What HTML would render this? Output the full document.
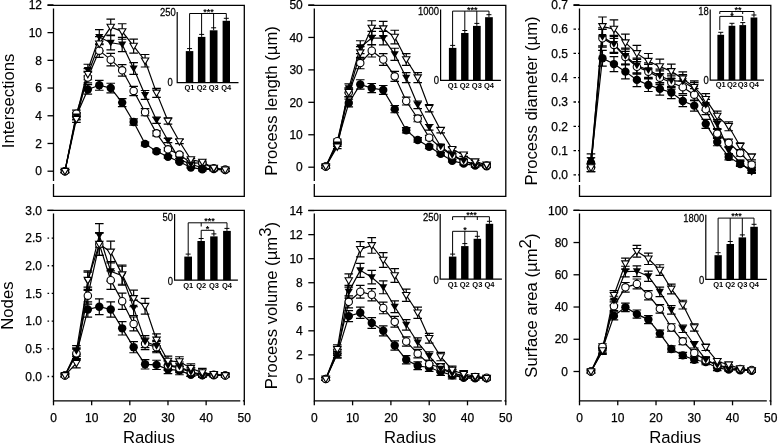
<!DOCTYPE html>
<html><head><meta charset="utf-8"><style>
html,body{margin:0;padding:0;background:#fff;}
body{width:778px;height:445px;overflow:hidden;}
svg{display:block;filter:grayscale(1);}
text{font-family:"Liberation Sans", sans-serif;fill:#000;}
.tl{font-size:12px;stroke:#000;stroke-width:0.25px;}
.al{font-size:16.7px;}
.il{font-size:11px;stroke:#000;stroke-width:0.25px;}
.ql{font-size:7.5px;font-weight:bold;}
.st{font-size:9px;font-weight:bold;}
</style></head><body>
<svg width="778" height="445" viewBox="0 0 778 445">
<rect width="778" height="445" fill="#fff"/>
<g><path d="M47.5 5.4H244.3V196.4H53.5V8.4" fill="none" stroke="#000" stroke-width="1.3"/><rect x="52" y="181" width="3" height="3" fill="#fff"/><line x1="47.5" y1="171.2" x2="53.5" y2="171.2" stroke="#000" stroke-width="1.3"/><text x="42" y="175.4" text-anchor="end" class="tl">0</text><line x1="47.5" y1="143.48" x2="53.5" y2="143.48" stroke="#000" stroke-width="1.3"/><text x="42" y="147.68" text-anchor="end" class="tl">2</text><line x1="47.5" y1="115.77" x2="53.5" y2="115.77" stroke="#000" stroke-width="1.3"/><text x="42" y="119.97" text-anchor="end" class="tl">4</text><line x1="47.5" y1="88.05" x2="53.5" y2="88.05" stroke="#000" stroke-width="1.3"/><text x="42" y="92.25" text-anchor="end" class="tl">6</text><line x1="47.5" y1="60.33" x2="53.5" y2="60.33" stroke="#000" stroke-width="1.3"/><text x="42" y="64.53" text-anchor="end" class="tl">8</text><line x1="47.5" y1="32.62" x2="53.5" y2="32.62" stroke="#000" stroke-width="1.3"/><text x="42" y="36.82" text-anchor="end" class="tl">10</text><line x1="47.5" y1="4.9" x2="53.5" y2="4.9" stroke="#000" stroke-width="1.3"/><text x="42" y="9.1" text-anchor="end" class="tl">12</text><text transform="translate(13.5 100.9) rotate(-90)" text-anchor="middle" class="al">Intersections</text><polyline points="64.95,171.2 76.4,115.77 87.84,89.44 99.29,85.28 110.74,88.05 122.19,102.6 133.64,122 145.08,143.9 156.53,151.24 167.98,156.79 179.43,161.78 190.88,167.46 202.32,169.4 213.77,169.12 225.22,170.09" fill="none" stroke="#000" stroke-width="1.2"/><polyline points="64.95,171.2 76.4,113.69 87.84,77.52 99.29,50.63 110.74,59.64 122.19,70.31 133.64,90.96 145.08,112.16 156.53,133.37 167.98,149.3 179.43,154.57 190.88,162.88 202.32,163.16 213.77,168.15 225.22,169.54" fill="none" stroke="#000" stroke-width="1.2"/><polyline points="64.95,171.2 76.4,116.46 87.84,70.03 99.29,37.05 110.74,42.73 122.19,44.53 133.64,68.51 145.08,94.98 156.53,120.2 167.98,140.43 179.43,159.42 190.88,164.27 202.32,167.74 213.77,169.12 225.22,169.81" fill="none" stroke="#000" stroke-width="1.2"/><polyline points="64.95,171.2 76.4,119.23 87.84,74.19 99.29,43.84 110.74,27.07 122.19,31.51 133.64,46.06 145.08,60.75 156.53,92.9 167.98,121.03 179.43,141.54 190.88,159.56 202.32,162.05 213.77,168.01 225.22,169.81" fill="none" stroke="#000" stroke-width="1.2"/><path d="M64.95 169.7V172.7M60.65 169.7H69.25M60.65 172.7H69.25" stroke="#000" stroke-width="1.2" fill="none"/><path d="M76.4 112.38V119.15M72.1 112.38H80.7M72.1 119.15H80.7" stroke="#000" stroke-width="1.2" fill="none"/><path d="M87.84 84.68V94.19M83.54 84.68H92.14M83.54 94.19H92.14" stroke="#000" stroke-width="1.2" fill="none"/><path d="M99.29 80.31V90.25M94.99 80.31H103.59M94.99 90.25H103.59" stroke="#000" stroke-width="1.2" fill="none"/><path d="M110.74 83.23V92.87M106.44 83.23H115.04M106.44 92.87H115.04" stroke="#000" stroke-width="1.2" fill="none"/><path d="M122.19 98.53V106.67M117.89 98.53H126.49M117.89 106.67H126.49" stroke="#000" stroke-width="1.2" fill="none"/><path d="M133.64 118.94V125.06M129.34 118.94H137.94M129.34 125.06H137.94" stroke="#000" stroke-width="1.2" fill="none"/><path d="M145.08 141.98V145.82M140.78 141.98H149.38M140.78 145.82H149.38" stroke="#000" stroke-width="1.2" fill="none"/><path d="M156.53 149.71V152.78M152.23 149.71H160.83M152.23 152.78H160.83" stroke="#000" stroke-width="1.2" fill="none"/><path d="M167.98 155.54V158.04M163.68 155.54H172.28M163.68 158.04H172.28" stroke="#000" stroke-width="1.2" fill="none"/><path d="M179.43 160.79V162.77M175.13 160.79H183.73M175.13 162.77H183.73" stroke="#000" stroke-width="1.2" fill="none"/><path d="M190.88 166.76V168.15M186.58 166.76H195.18M186.58 168.15H195.18" stroke="#000" stroke-width="1.2" fill="none"/><path d="M202.32 167.9V170.9M198.02 167.9H206.62M198.02 170.9H206.62" stroke="#000" stroke-width="1.2" fill="none"/><path d="M213.77 167.62V170.62M209.47 167.62H218.07M209.47 170.62H218.07" stroke="#000" stroke-width="1.2" fill="none"/><path d="M225.22 168.59V171.59M220.92 168.59H229.52M220.92 171.59H229.52" stroke="#000" stroke-width="1.2" fill="none"/><path d="M64.95 169.7V172.7M60.65 169.7H69.25M60.65 172.7H69.25" stroke="#000" stroke-width="1.2" fill="none"/><path d="M76.4 110.2V117.18M72.1 110.2H80.7M72.1 117.18H80.7" stroke="#000" stroke-width="1.2" fill="none"/><path d="M87.84 72.15V82.89M83.54 72.15H92.14M83.54 82.89H92.14" stroke="#000" stroke-width="1.2" fill="none"/><path d="M99.29 43.86V57.4M94.99 43.86H103.59M94.99 57.4H103.59" stroke="#000" stroke-width="1.2" fill="none"/><path d="M110.74 53.34V65.94M106.44 53.34H115.04M106.44 65.94H115.04" stroke="#000" stroke-width="1.2" fill="none"/><path d="M122.19 64.57V76.06M117.89 64.57H126.49M117.89 76.06H126.49" stroke="#000" stroke-width="1.2" fill="none"/><path d="M133.64 86.29V95.63M129.34 86.29H137.94M129.34 95.63H137.94" stroke="#000" stroke-width="1.2" fill="none"/><path d="M145.08 108.59V115.73M140.78 108.59H149.38M140.78 115.73H149.38" stroke="#000" stroke-width="1.2" fill="none"/><path d="M156.53 130.9V135.83M152.23 130.9H160.83M152.23 135.83H160.83" stroke="#000" stroke-width="1.2" fill="none"/><path d="M167.98 147.67V150.94M163.68 147.67H172.28M163.68 150.94H172.28" stroke="#000" stroke-width="1.2" fill="none"/><path d="M179.43 153.21V155.93M175.13 153.21H183.73M175.13 155.93H183.73" stroke="#000" stroke-width="1.2" fill="none"/><path d="M190.88 161.95V163.82M186.58 161.95H195.18M186.58 163.82H195.18" stroke="#000" stroke-width="1.2" fill="none"/><path d="M202.32 162.24V164.08M198.02 162.24H206.62M198.02 164.08H206.62" stroke="#000" stroke-width="1.2" fill="none"/><path d="M213.77 167.49V168.81M209.47 167.49H218.07M209.47 168.81H218.07" stroke="#000" stroke-width="1.2" fill="none"/><path d="M225.22 168.04V171.04M220.92 168.04H229.52M220.92 171.04H229.52" stroke="#000" stroke-width="1.2" fill="none"/><path d="M64.95 169.7V172.7M60.65 169.7H69.25M60.65 172.7H69.25" stroke="#000" stroke-width="1.2" fill="none"/><path d="M76.4 113.11V119.81M72.1 113.11H80.7M72.1 119.81H80.7" stroke="#000" stroke-width="1.2" fill="none"/><path d="M87.84 64.27V75.79M83.54 64.27H92.14M83.54 75.79H92.14" stroke="#000" stroke-width="1.2" fill="none"/><path d="M99.29 29.58V44.53M94.99 29.58H103.59M94.99 44.53H103.59" stroke="#000" stroke-width="1.2" fill="none"/><path d="M110.74 35.55V49.91M106.44 35.55H115.04M106.44 49.91H115.04" stroke="#000" stroke-width="1.2" fill="none"/><path d="M122.19 37.45V51.62M117.89 37.45H126.49M117.89 51.62H126.49" stroke="#000" stroke-width="1.2" fill="none"/><path d="M133.64 62.67V74.35M129.34 62.67H137.94M129.34 74.35H137.94" stroke="#000" stroke-width="1.2" fill="none"/><path d="M145.08 90.52V99.44M140.78 90.52H149.38M140.78 99.44H149.38" stroke="#000" stroke-width="1.2" fill="none"/><path d="M156.53 117.05V123.35M152.23 117.05H160.83M152.23 123.35H160.83" stroke="#000" stroke-width="1.2" fill="none"/><path d="M167.98 138.33V142.53M163.68 138.33H172.28M163.68 142.53H172.28" stroke="#000" stroke-width="1.2" fill="none"/><path d="M179.43 158.31V160.53M175.13 158.31H183.73M175.13 160.53H183.73" stroke="#000" stroke-width="1.2" fill="none"/><path d="M190.88 163.41V165.13M186.58 163.41H195.18M186.58 165.13H195.18" stroke="#000" stroke-width="1.2" fill="none"/><path d="M202.32 167.06V168.42M198.02 167.06H206.62M198.02 168.42H206.62" stroke="#000" stroke-width="1.2" fill="none"/><path d="M213.77 167.62V170.62M209.47 167.62H218.07M209.47 170.62H218.07" stroke="#000" stroke-width="1.2" fill="none"/><path d="M225.22 168.31V171.31M220.92 168.31H229.52M220.92 171.31H229.52" stroke="#000" stroke-width="1.2" fill="none"/><path d="M64.95 169.7V172.7M60.65 169.7H69.25M60.65 172.7H69.25" stroke="#000" stroke-width="1.2" fill="none"/><path d="M76.4 116.03V122.43M72.1 116.03H80.7M72.1 122.43H80.7" stroke="#000" stroke-width="1.2" fill="none"/><path d="M87.84 68.65V79.74M83.54 68.65H92.14M83.54 79.74H92.14" stroke="#000" stroke-width="1.2" fill="none"/><path d="M99.29 36.72V50.96M94.99 36.72H103.59M94.99 50.96H103.59" stroke="#000" stroke-width="1.2" fill="none"/><path d="M110.74 19.08V35.07M106.44 19.08H115.04M106.44 35.07H115.04" stroke="#000" stroke-width="1.2" fill="none"/><path d="M122.19 23.74V39.27M117.89 23.74H126.49M117.89 39.27H126.49" stroke="#000" stroke-width="1.2" fill="none"/><path d="M133.64 39.05V53.07M129.34 39.05H137.94M129.34 53.07H137.94" stroke="#000" stroke-width="1.2" fill="none"/><path d="M145.08 54.51V66.99M140.78 54.51H149.38M140.78 66.99H149.38" stroke="#000" stroke-width="1.2" fill="none"/><path d="M156.53 88.33V97.47M152.23 88.33H160.83M152.23 97.47H160.83" stroke="#000" stroke-width="1.2" fill="none"/><path d="M167.98 117.92V124.14M163.68 117.92H172.28M163.68 124.14H172.28" stroke="#000" stroke-width="1.2" fill="none"/><path d="M179.43 139.5V143.59M175.13 139.5H183.73M175.13 143.59H183.73" stroke="#000" stroke-width="1.2" fill="none"/><path d="M190.88 158.45V160.66M186.58 158.45H195.18M186.58 160.66H195.18" stroke="#000" stroke-width="1.2" fill="none"/><path d="M202.32 161.08V163.03M198.02 161.08H206.62M198.02 163.03H206.62" stroke="#000" stroke-width="1.2" fill="none"/><path d="M213.77 167.35V168.68M209.47 167.35H218.07M209.47 168.68H218.07" stroke="#000" stroke-width="1.2" fill="none"/><path d="M225.22 168.31V171.31M220.92 168.31H229.52M220.92 171.31H229.52" stroke="#000" stroke-width="1.2" fill="none"/><circle cx="64.95" cy="171.2" r="4.2" fill="#000"/><circle cx="76.4" cy="115.77" r="4.2" fill="#000"/><circle cx="87.84" cy="89.44" r="4.2" fill="#000"/><circle cx="99.29" cy="85.28" r="4.2" fill="#000"/><circle cx="110.74" cy="88.05" r="4.2" fill="#000"/><circle cx="122.19" cy="102.6" r="4.2" fill="#000"/><circle cx="133.64" cy="122" r="4.2" fill="#000"/><circle cx="145.08" cy="143.9" r="4.2" fill="#000"/><circle cx="156.53" cy="151.24" r="4.2" fill="#000"/><circle cx="167.98" cy="156.79" r="4.2" fill="#000"/><circle cx="179.43" cy="161.78" r="4.2" fill="#000"/><circle cx="190.88" cy="167.46" r="4.2" fill="#000"/><circle cx="202.32" cy="169.4" r="4.2" fill="#000"/><circle cx="213.77" cy="169.12" r="4.2" fill="#000"/><circle cx="225.22" cy="170.09" r="4.2" fill="#000"/><circle cx="64.95" cy="171.2" r="3.7" fill="#fff" stroke="#000" stroke-width="1.1"/><circle cx="76.4" cy="113.69" r="3.7" fill="#fff" stroke="#000" stroke-width="1.1"/><circle cx="87.84" cy="77.52" r="3.7" fill="#fff" stroke="#000" stroke-width="1.1"/><circle cx="99.29" cy="50.63" r="3.7" fill="#fff" stroke="#000" stroke-width="1.1"/><circle cx="110.74" cy="59.64" r="3.7" fill="#fff" stroke="#000" stroke-width="1.1"/><circle cx="122.19" cy="70.31" r="3.7" fill="#fff" stroke="#000" stroke-width="1.1"/><circle cx="133.64" cy="90.96" r="3.7" fill="#fff" stroke="#000" stroke-width="1.1"/><circle cx="145.08" cy="112.16" r="3.7" fill="#fff" stroke="#000" stroke-width="1.1"/><circle cx="156.53" cy="133.37" r="3.7" fill="#fff" stroke="#000" stroke-width="1.1"/><circle cx="167.98" cy="149.3" r="3.7" fill="#fff" stroke="#000" stroke-width="1.1"/><circle cx="179.43" cy="154.57" r="3.7" fill="#fff" stroke="#000" stroke-width="1.1"/><circle cx="190.88" cy="162.88" r="3.7" fill="#fff" stroke="#000" stroke-width="1.1"/><circle cx="202.32" cy="163.16" r="3.7" fill="#fff" stroke="#000" stroke-width="1.1"/><circle cx="213.77" cy="168.15" r="3.7" fill="#fff" stroke="#000" stroke-width="1.1"/><circle cx="225.22" cy="169.54" r="3.7" fill="#fff" stroke="#000" stroke-width="1.1"/><path d="M60.85 168.2H69.05L64.95 175Z" fill="#000"/><path d="M72.3 113.46H80.5L76.4 120.26Z" fill="#000"/><path d="M83.74 67.03H91.94L87.84 73.83Z" fill="#000"/><path d="M95.19 34.05H103.39L99.29 40.85Z" fill="#000"/><path d="M106.64 39.73H114.84L110.74 46.53Z" fill="#000"/><path d="M118.09 41.53H126.29L122.19 48.33Z" fill="#000"/><path d="M129.54 65.51H137.74L133.64 72.31Z" fill="#000"/><path d="M140.98 91.98H149.18L145.08 98.78Z" fill="#000"/><path d="M152.43 117.2H160.63L156.53 124Z" fill="#000"/><path d="M163.88 137.43H172.08L167.98 144.23Z" fill="#000"/><path d="M175.33 156.42H183.53L179.43 163.22Z" fill="#000"/><path d="M186.78 161.27H194.98L190.88 168.07Z" fill="#000"/><path d="M198.22 164.74H206.42L202.32 171.54Z" fill="#000"/><path d="M209.67 166.12H217.87L213.77 172.92Z" fill="#000"/><path d="M221.12 166.81H229.32L225.22 173.61Z" fill="#000"/><path d="M61.25 168.4H68.65L64.95 174.8Z" fill="#fff" stroke="#000" stroke-width="1.1"/><path d="M72.7 116.43H80.1L76.4 122.83Z" fill="#fff" stroke="#000" stroke-width="1.1"/><path d="M84.14 71.39H91.54L87.84 77.79Z" fill="#fff" stroke="#000" stroke-width="1.1"/><path d="M95.59 41.04H102.99L99.29 47.44Z" fill="#fff" stroke="#000" stroke-width="1.1"/><path d="M107.04 24.27H114.44L110.74 30.67Z" fill="#fff" stroke="#000" stroke-width="1.1"/><path d="M118.49 28.71H125.89L122.19 35.11Z" fill="#fff" stroke="#000" stroke-width="1.1"/><path d="M129.94 43.26H137.34L133.64 49.66Z" fill="#fff" stroke="#000" stroke-width="1.1"/><path d="M141.38 57.95H148.78L145.08 64.35Z" fill="#fff" stroke="#000" stroke-width="1.1"/><path d="M152.83 90.1H160.23L156.53 96.5Z" fill="#fff" stroke="#000" stroke-width="1.1"/><path d="M164.28 118.23H171.68L167.98 124.63Z" fill="#fff" stroke="#000" stroke-width="1.1"/><path d="M175.73 138.74H183.13L179.43 145.14Z" fill="#fff" stroke="#000" stroke-width="1.1"/><path d="M187.18 156.76H194.58L190.88 163.16Z" fill="#fff" stroke="#000" stroke-width="1.1"/><path d="M198.62 159.25H206.02L202.32 165.65Z" fill="#fff" stroke="#000" stroke-width="1.1"/><path d="M210.07 165.21H217.47L213.77 171.61Z" fill="#fff" stroke="#000" stroke-width="1.1"/><path d="M221.52 167.01H228.92L225.22 173.41Z" fill="#fff" stroke="#000" stroke-width="1.1"/><rect x="175.2" y="9" width="65.3" height="82.6" fill="#fff"/><path d="M177.2 12V82.6H238.5" fill="none" stroke="#000" stroke-width="1.2"/><text transform="translate(175.7 15.5) scale(0.86 1)" text-anchor="end" class="il">250</text><text transform="translate(172.7 86.2) scale(0.86 1)" text-anchor="end" class="il">0</text><rect x="185.8" y="51.1" width="7.5" height="31.5" fill="#000"/><path d="M189.55 51.1V48.6M187.05 48.6H192.05" stroke="#000" stroke-width="1"/><text x="189.55" y="89.9" text-anchor="middle" class="ql">Q1</text><rect x="197.9" y="36.9" width="7.5" height="45.7" fill="#000"/><path d="M201.65 36.9V34.4M199.15 34.4H204.15" stroke="#000" stroke-width="1"/><text x="201.65" y="89.9" text-anchor="middle" class="ql">Q2</text><rect x="209.8" y="30.3" width="7.7" height="52.3" fill="#000"/><path d="M213.65 30.3V27.8M211.15 27.8H216.15" stroke="#000" stroke-width="1"/><text x="213.65" y="89.9" text-anchor="middle" class="ql">Q3</text><rect x="222.6" y="20.8" width="7.4" height="61.8" fill="#000"/><path d="M226.3 20.8V18.3M223.8 18.3H228.8" stroke="#000" stroke-width="1"/><text x="226.3" y="89.9" text-anchor="middle" class="ql">Q4</text><path d="M189.6 13.5H226.3" stroke="#000" stroke-width="1"/><path d="M189.6 13.5V49" stroke="#000" stroke-width="1"/><path d="M201.6 13.5V35" stroke="#000" stroke-width="1"/><path d="M213.6 13.5V28" stroke="#000" stroke-width="1"/><path d="M226.3 13.5V18.5" stroke="#000" stroke-width="1"/><text x="208.4" y="14.9" text-anchor="middle" class="st">***</text></g><g><path d="M308.3 5.4H505.8V196.4H314.3V8.4" fill="none" stroke="#000" stroke-width="1.3"/><rect x="312.8" y="181" width="3" height="3" fill="#fff"/><line x1="308.3" y1="167.2" x2="314.3" y2="167.2" stroke="#000" stroke-width="1.3"/><text x="302.8" y="171.4" text-anchor="end" class="tl">0</text><line x1="308.3" y1="134.76" x2="314.3" y2="134.76" stroke="#000" stroke-width="1.3"/><text x="302.8" y="138.96" text-anchor="end" class="tl">10</text><line x1="308.3" y1="102.32" x2="314.3" y2="102.32" stroke="#000" stroke-width="1.3"/><text x="302.8" y="106.52" text-anchor="end" class="tl">20</text><line x1="308.3" y1="69.88" x2="314.3" y2="69.88" stroke="#000" stroke-width="1.3"/><text x="302.8" y="74.08" text-anchor="end" class="tl">30</text><line x1="308.3" y1="37.44" x2="314.3" y2="37.44" stroke="#000" stroke-width="1.3"/><text x="302.8" y="41.64" text-anchor="end" class="tl">40</text><line x1="308.3" y1="5" x2="314.3" y2="5" stroke="#000" stroke-width="1.3"/><text x="302.8" y="9.2" text-anchor="end" class="tl">50</text><text transform="translate(277 100.9) rotate(-90)" text-anchor="middle" class="al">Process length (µm)</text><polyline points="325.79,166.55 337.28,142.87 348.77,102.97 360.26,84.48 371.75,88.05 383.24,89.99 394.73,109.13 406.22,130.22 417.71,139.95 429.2,146.76 440.69,153.9 452.18,160.71 463.67,163.63 475.16,165.58 486.65,166.23" fill="none" stroke="#000" stroke-width="1.2"/><polyline points="325.79,166.55 337.28,141.25 348.77,92.59 360.26,63.07 371.75,50.74 383.24,59.5 394.73,76.37 406.22,101.02 417.71,118.54 429.2,137.68 440.69,147.74 452.18,155.52 463.67,161.36 475.16,163.96 486.65,165.58" fill="none" stroke="#000" stroke-width="1.2"/><polyline points="325.79,166.55 337.28,144.49 348.77,88.37 360.26,47.17 371.75,38.09 383.24,38.09 394.73,54.31 406.22,77.67 417.71,104.92 429.2,127.3 440.69,146.44 452.18,154.87 463.67,160.71 475.16,165.25 486.65,165.9" fill="none" stroke="#000" stroke-width="1.2"/><polyline points="325.79,166.55 337.28,146.76 348.77,92.26 360.26,52.69 371.75,28.03 383.24,28.68 394.73,37.12 406.22,59.5 417.71,77.67 429.2,108.16 440.69,130.22 452.18,149.36 463.67,154.87 475.16,161.69 486.65,164.93" fill="none" stroke="#000" stroke-width="1.2"/><path d="M325.79 165.05V168.05M321.49 165.05H330.09M321.49 168.05H330.09" stroke="#000" stroke-width="1.2" fill="none"/><path d="M337.28 140.78V144.96M332.98 140.78H341.58M332.98 144.96H341.58" stroke="#000" stroke-width="1.2" fill="none"/><path d="M348.77 99.08V106.86M344.47 99.08H353.07M344.47 106.86H353.07" stroke="#000" stroke-width="1.2" fill="none"/><path d="M360.26 79.76V89.2M355.96 79.76H364.56M355.96 89.2H364.56" stroke="#000" stroke-width="1.2" fill="none"/><path d="M371.75 83.48V92.61M367.45 83.48H376.05M367.45 92.61H376.05" stroke="#000" stroke-width="1.2" fill="none"/><path d="M383.24 85.52V94.47M378.94 85.52H387.54M378.94 94.47H387.54" stroke="#000" stroke-width="1.2" fill="none"/><path d="M394.73 105.52V112.75M390.43 105.52H399.03M390.43 112.75H399.03" stroke="#000" stroke-width="1.2" fill="none"/><path d="M406.22 127.55V132.88M401.92 127.55H410.52M401.92 132.88H410.52" stroke="#000" stroke-width="1.2" fill="none"/><path d="M417.71 137.72V142.18M413.41 137.72H422.01M413.41 142.18H422.01" stroke="#000" stroke-width="1.2" fill="none"/><path d="M429.2 144.84V148.68M424.9 144.84H433.5M424.9 148.68H433.5" stroke="#000" stroke-width="1.2" fill="none"/><path d="M440.69 152.3V155.5M436.39 152.3H444.99M436.39 155.5H444.99" stroke="#000" stroke-width="1.2" fill="none"/><path d="M452.18 159.42V162M447.88 159.42H456.48M447.88 162H456.48" stroke="#000" stroke-width="1.2" fill="none"/><path d="M463.67 162.47V164.79M459.37 162.47H467.97M459.37 164.79H467.97" stroke="#000" stroke-width="1.2" fill="none"/><path d="M475.16 164.08V167.08M470.86 164.08H479.46M470.86 167.08H479.46" stroke="#000" stroke-width="1.2" fill="none"/><path d="M486.65 164.73V167.73M482.35 164.73H490.95M482.35 167.73H490.95" stroke="#000" stroke-width="1.2" fill="none"/><path d="M325.79 165.05V168.05M321.49 165.05H330.09M321.49 168.05H330.09" stroke="#000" stroke-width="1.2" fill="none"/><path d="M337.28 139.08V143.42M332.98 139.08H341.58M332.98 143.42H341.58" stroke="#000" stroke-width="1.2" fill="none"/><path d="M348.77 88.23V96.95M344.47 88.23H353.07M344.47 96.95H353.07" stroke="#000" stroke-width="1.2" fill="none"/><path d="M360.26 57.38V68.75M355.96 57.38H364.56M355.96 68.75H364.56" stroke="#000" stroke-width="1.2" fill="none"/><path d="M371.75 44.5V56.98M367.45 44.5H376.05M367.45 56.98H376.05" stroke="#000" stroke-width="1.2" fill="none"/><path d="M383.24 53.65V65.35M378.94 53.65H387.54M378.94 65.35H387.54" stroke="#000" stroke-width="1.2" fill="none"/><path d="M394.73 71.28V81.46M390.43 71.28H399.03M390.43 81.46H399.03" stroke="#000" stroke-width="1.2" fill="none"/><path d="M406.22 97.04V105M401.92 97.04H410.52M401.92 105H410.52" stroke="#000" stroke-width="1.2" fill="none"/><path d="M417.71 115.35V121.73M413.41 115.35H422.01M413.41 121.73H422.01" stroke="#000" stroke-width="1.2" fill="none"/><path d="M429.2 135.35V140.01M424.9 135.35H433.5M424.9 140.01H433.5" stroke="#000" stroke-width="1.2" fill="none"/><path d="M440.69 145.86V149.61M436.39 145.86H444.99M436.39 149.61H444.99" stroke="#000" stroke-width="1.2" fill="none"/><path d="M452.18 154V157.05M447.88 154H456.48M447.88 157.05H456.48" stroke="#000" stroke-width="1.2" fill="none"/><path d="M463.67 160.1V162.62M459.37 160.1H467.97M459.37 162.62H467.97" stroke="#000" stroke-width="1.2" fill="none"/><path d="M475.16 162.81V165.1M470.86 162.81H479.46M470.86 165.1H479.46" stroke="#000" stroke-width="1.2" fill="none"/><path d="M486.65 164.08V167.08M482.35 164.08H490.95M482.35 167.08H490.95" stroke="#000" stroke-width="1.2" fill="none"/><path d="M325.79 165.05V168.05M321.49 165.05H330.09M321.49 168.05H330.09" stroke="#000" stroke-width="1.2" fill="none"/><path d="M337.28 142.47V146.51M332.98 142.47H341.58M332.98 146.51H341.58" stroke="#000" stroke-width="1.2" fill="none"/><path d="M348.77 83.82V92.92M344.47 83.82H353.07M344.47 92.92H353.07" stroke="#000" stroke-width="1.2" fill="none"/><path d="M360.26 40.77V53.57M355.96 40.77H364.56M355.96 53.57H364.56" stroke="#000" stroke-width="1.2" fill="none"/><path d="M371.75 31.28V44.9M367.45 31.28H376.05M367.45 44.9H376.05" stroke="#000" stroke-width="1.2" fill="none"/><path d="M383.24 31.28V44.9M378.94 31.28H387.54M378.94 44.9H387.54" stroke="#000" stroke-width="1.2" fill="none"/><path d="M394.73 48.23V60.39M390.43 48.23H399.03M390.43 60.39H399.03" stroke="#000" stroke-width="1.2" fill="none"/><path d="M406.22 72.64V82.69M401.92 72.64H410.52M401.92 82.69H410.52" stroke="#000" stroke-width="1.2" fill="none"/><path d="M417.71 101.11V108.72M413.41 101.11H422.01M413.41 108.72H422.01" stroke="#000" stroke-width="1.2" fill="none"/><path d="M429.2 124.5V130.09M424.9 124.5H433.5M424.9 130.09H433.5" stroke="#000" stroke-width="1.2" fill="none"/><path d="M440.69 144.5V148.37M436.39 144.5H444.99M436.39 148.37H444.99" stroke="#000" stroke-width="1.2" fill="none"/><path d="M452.18 153.32V156.43M447.88 153.32H456.48M447.88 156.43H456.48" stroke="#000" stroke-width="1.2" fill="none"/><path d="M463.67 159.42V162M459.37 159.42H467.97M459.37 162H467.97" stroke="#000" stroke-width="1.2" fill="none"/><path d="M475.16 163.75V166.75M470.86 163.75H479.46M470.86 166.75H479.46" stroke="#000" stroke-width="1.2" fill="none"/><path d="M486.65 164.4V167.4M482.35 164.4H490.95M482.35 167.4H490.95" stroke="#000" stroke-width="1.2" fill="none"/><path d="M325.79 165.05V168.05M321.49 165.05H330.09M321.49 168.05H330.09" stroke="#000" stroke-width="1.2" fill="none"/><path d="M337.28 144.84V148.68M332.98 144.84H341.58M332.98 148.68H341.58" stroke="#000" stroke-width="1.2" fill="none"/><path d="M348.77 87.89V96.64M344.47 87.89H353.07M344.47 96.64H353.07" stroke="#000" stroke-width="1.2" fill="none"/><path d="M360.26 46.53V58.84M355.96 46.53H364.56M355.96 58.84H364.56" stroke="#000" stroke-width="1.2" fill="none"/><path d="M371.75 20.77V35.29M367.45 20.77H376.05M367.45 35.29H376.05" stroke="#000" stroke-width="1.2" fill="none"/><path d="M383.24 21.45V35.91M378.94 21.45H387.54M378.94 35.91H387.54" stroke="#000" stroke-width="1.2" fill="none"/><path d="M394.73 30.26V43.97M390.43 30.26H399.03M390.43 43.97H399.03" stroke="#000" stroke-width="1.2" fill="none"/><path d="M406.22 53.65V65.35M401.92 53.65H410.52M401.92 65.35H410.52" stroke="#000" stroke-width="1.2" fill="none"/><path d="M417.71 72.64V82.69M413.41 72.64H422.01M413.41 82.69H422.01" stroke="#000" stroke-width="1.2" fill="none"/><path d="M429.2 104.5V111.82M424.9 104.5H433.5M424.9 111.82H433.5" stroke="#000" stroke-width="1.2" fill="none"/><path d="M440.69 127.55V132.88M436.39 127.55H444.99M436.39 132.88H444.99" stroke="#000" stroke-width="1.2" fill="none"/><path d="M452.18 147.56V151.16M447.88 147.56H456.48M447.88 151.16H456.48" stroke="#000" stroke-width="1.2" fill="none"/><path d="M463.67 153.32V156.43M459.37 153.32H467.97M459.37 156.43H467.97" stroke="#000" stroke-width="1.2" fill="none"/><path d="M475.16 160.44V162.93M470.86 160.44H479.46M470.86 162.93H479.46" stroke="#000" stroke-width="1.2" fill="none"/><path d="M486.65 163.43V166.43M482.35 163.43H490.95M482.35 166.43H490.95" stroke="#000" stroke-width="1.2" fill="none"/><circle cx="325.79" cy="166.55" r="4.2" fill="#000"/><circle cx="337.28" cy="142.87" r="4.2" fill="#000"/><circle cx="348.77" cy="102.97" r="4.2" fill="#000"/><circle cx="360.26" cy="84.48" r="4.2" fill="#000"/><circle cx="371.75" cy="88.05" r="4.2" fill="#000"/><circle cx="383.24" cy="89.99" r="4.2" fill="#000"/><circle cx="394.73" cy="109.13" r="4.2" fill="#000"/><circle cx="406.22" cy="130.22" r="4.2" fill="#000"/><circle cx="417.71" cy="139.95" r="4.2" fill="#000"/><circle cx="429.2" cy="146.76" r="4.2" fill="#000"/><circle cx="440.69" cy="153.9" r="4.2" fill="#000"/><circle cx="452.18" cy="160.71" r="4.2" fill="#000"/><circle cx="463.67" cy="163.63" r="4.2" fill="#000"/><circle cx="475.16" cy="165.58" r="4.2" fill="#000"/><circle cx="486.65" cy="166.23" r="4.2" fill="#000"/><circle cx="325.79" cy="166.55" r="3.7" fill="#fff" stroke="#000" stroke-width="1.1"/><circle cx="337.28" cy="141.25" r="3.7" fill="#fff" stroke="#000" stroke-width="1.1"/><circle cx="348.77" cy="92.59" r="3.7" fill="#fff" stroke="#000" stroke-width="1.1"/><circle cx="360.26" cy="63.07" r="3.7" fill="#fff" stroke="#000" stroke-width="1.1"/><circle cx="371.75" cy="50.74" r="3.7" fill="#fff" stroke="#000" stroke-width="1.1"/><circle cx="383.24" cy="59.5" r="3.7" fill="#fff" stroke="#000" stroke-width="1.1"/><circle cx="394.73" cy="76.37" r="3.7" fill="#fff" stroke="#000" stroke-width="1.1"/><circle cx="406.22" cy="101.02" r="3.7" fill="#fff" stroke="#000" stroke-width="1.1"/><circle cx="417.71" cy="118.54" r="3.7" fill="#fff" stroke="#000" stroke-width="1.1"/><circle cx="429.2" cy="137.68" r="3.7" fill="#fff" stroke="#000" stroke-width="1.1"/><circle cx="440.69" cy="147.74" r="3.7" fill="#fff" stroke="#000" stroke-width="1.1"/><circle cx="452.18" cy="155.52" r="3.7" fill="#fff" stroke="#000" stroke-width="1.1"/><circle cx="463.67" cy="161.36" r="3.7" fill="#fff" stroke="#000" stroke-width="1.1"/><circle cx="475.16" cy="163.96" r="3.7" fill="#fff" stroke="#000" stroke-width="1.1"/><circle cx="486.65" cy="165.58" r="3.7" fill="#fff" stroke="#000" stroke-width="1.1"/><path d="M321.69 163.55H329.89L325.79 170.35Z" fill="#000"/><path d="M333.18 141.49H341.38L337.28 148.29Z" fill="#000"/><path d="M344.67 85.37H352.87L348.77 92.17Z" fill="#000"/><path d="M356.16 44.17H364.36L360.26 50.97Z" fill="#000"/><path d="M367.65 35.09H375.85L371.75 41.89Z" fill="#000"/><path d="M379.14 35.09H387.34L383.24 41.89Z" fill="#000"/><path d="M390.63 51.31H398.83L394.73 58.11Z" fill="#000"/><path d="M402.12 74.67H410.32L406.22 81.47Z" fill="#000"/><path d="M413.61 101.92H421.81L417.71 108.72Z" fill="#000"/><path d="M425.1 124.3H433.3L429.2 131.1Z" fill="#000"/><path d="M436.59 143.44H444.79L440.69 150.24Z" fill="#000"/><path d="M448.08 151.87H456.28L452.18 158.67Z" fill="#000"/><path d="M459.57 157.71H467.77L463.67 164.51Z" fill="#000"/><path d="M471.06 162.25H479.26L475.16 169.05Z" fill="#000"/><path d="M482.55 162.9H490.75L486.65 169.7Z" fill="#000"/><path d="M322.09 163.75H329.49L325.79 170.15Z" fill="#fff" stroke="#000" stroke-width="1.1"/><path d="M333.58 143.96H340.98L337.28 150.36Z" fill="#fff" stroke="#000" stroke-width="1.1"/><path d="M345.07 89.46H352.47L348.77 95.86Z" fill="#fff" stroke="#000" stroke-width="1.1"/><path d="M356.56 49.89H363.96L360.26 56.29Z" fill="#fff" stroke="#000" stroke-width="1.1"/><path d="M368.05 25.23H375.45L371.75 31.63Z" fill="#fff" stroke="#000" stroke-width="1.1"/><path d="M379.54 25.88H386.94L383.24 32.28Z" fill="#fff" stroke="#000" stroke-width="1.1"/><path d="M391.03 34.32H398.43L394.73 40.72Z" fill="#fff" stroke="#000" stroke-width="1.1"/><path d="M402.52 56.7H409.92L406.22 63.1Z" fill="#fff" stroke="#000" stroke-width="1.1"/><path d="M414.01 74.87H421.41L417.71 81.27Z" fill="#fff" stroke="#000" stroke-width="1.1"/><path d="M425.5 105.36H432.9L429.2 111.76Z" fill="#fff" stroke="#000" stroke-width="1.1"/><path d="M436.99 127.42H444.39L440.69 133.82Z" fill="#fff" stroke="#000" stroke-width="1.1"/><path d="M448.48 146.56H455.88L452.18 152.96Z" fill="#fff" stroke="#000" stroke-width="1.1"/><path d="M459.97 152.07H467.37L463.67 158.47Z" fill="#fff" stroke="#000" stroke-width="1.1"/><path d="M471.46 158.89H478.86L475.16 165.29Z" fill="#fff" stroke="#000" stroke-width="1.1"/><path d="M482.95 162.13H490.35L486.65 168.53Z" fill="#fff" stroke="#000" stroke-width="1.1"/><rect x="438.6" y="6.5" width="64.3" height="82.9" fill="#fff"/><path d="M440.6 9.5V80.4H500.9" fill="none" stroke="#000" stroke-width="1.2"/><text transform="translate(439.1 15.3) scale(0.86 1)" text-anchor="end" class="il">1000</text><text transform="translate(439.1 83.9) scale(0.86 1)" text-anchor="end" class="il">0</text><rect x="448.9" y="47.9" width="7.5" height="32.5" fill="#000"/><path d="M452.65 47.9V45.4M450.15 45.4H455.15" stroke="#000" stroke-width="1"/><text x="452.65" y="87.7" text-anchor="middle" class="ql">Q1</text><rect x="461.1" y="33" width="7.4" height="47.4" fill="#000"/><path d="M464.8 33V30.5M462.3 30.5H467.3" stroke="#000" stroke-width="1"/><text x="464.8" y="87.7" text-anchor="middle" class="ql">Q2</text><rect x="473" y="25.9" width="7.7" height="54.5" fill="#000"/><path d="M476.85 25.9V23.4M474.35 23.4H479.35" stroke="#000" stroke-width="1"/><text x="476.85" y="87.7" text-anchor="middle" class="ql">Q3</text><rect x="485.1" y="17.2" width="7.7" height="63.2" fill="#000"/><path d="M488.95 17.2V14.7M486.45 14.7H491.45" stroke="#000" stroke-width="1"/><text x="488.95" y="87.7" text-anchor="middle" class="ql">Q4</text><path d="M452.6 11.1H489" stroke="#000" stroke-width="1"/><path d="M452.6 11.1V45.5" stroke="#000" stroke-width="1"/><path d="M464.8 11.1V31" stroke="#000" stroke-width="1"/><path d="M476.8 11.1V23.5" stroke="#000" stroke-width="1"/><path d="M489 11.1V15" stroke="#000" stroke-width="1"/><text x="472.2" y="12.6" text-anchor="middle" class="st">***</text></g><g><path d="M573.5 5.4H770.8V196.4H579.5V8.4" fill="none" stroke="#000" stroke-width="1.3"/><rect x="578" y="182" width="3" height="3" fill="#fff"/><line x1="573.5" y1="174.9" x2="579.5" y2="174.9" stroke="#000" stroke-width="1.3" stroke-dasharray="2.5 2 1.5"/><text x="568" y="179.1" text-anchor="end" class="tl">0.0</text><line x1="573.5" y1="150.6" x2="579.5" y2="150.6" stroke="#000" stroke-width="1.3" stroke-dasharray="2.5 2 1.5"/><text x="568" y="154.8" text-anchor="end" class="tl">0.1</text><line x1="573.5" y1="126.3" x2="579.5" y2="126.3" stroke="#000" stroke-width="1.3" stroke-dasharray="2.5 2 1.5"/><text x="568" y="130.5" text-anchor="end" class="tl">0.2</text><line x1="573.5" y1="102" x2="579.5" y2="102" stroke="#000" stroke-width="1.3" stroke-dasharray="2.5 2 1.5"/><text x="568" y="106.2" text-anchor="end" class="tl">0.3</text><line x1="573.5" y1="77.7" x2="579.5" y2="77.7" stroke="#000" stroke-width="1.3" stroke-dasharray="2.5 2 1.5"/><text x="568" y="81.9" text-anchor="end" class="tl">0.4</text><line x1="573.5" y1="53.4" x2="579.5" y2="53.4" stroke="#000" stroke-width="1.3" stroke-dasharray="2.5 2 1.5"/><text x="568" y="57.6" text-anchor="end" class="tl">0.5</text><line x1="573.5" y1="29.1" x2="579.5" y2="29.1" stroke="#000" stroke-width="1.3" stroke-dasharray="2.5 2 1.5"/><text x="568" y="33.3" text-anchor="end" class="tl">0.6</text><line x1="573.5" y1="4.8" x2="579.5" y2="4.8" stroke="#000" stroke-width="1.3"/><text x="568" y="9" text-anchor="end" class="tl">0.7</text><text transform="translate(537 100.9) rotate(-90)" text-anchor="middle" class="al">Process diameter (µm)</text><polyline points="590.98,162.75 602.46,58.26 613.93,64.09 625.41,71.63 636.89,79.89 648.37,84.99 659.85,88.88 671.32,92.52 682.8,101.03 694.28,105.65 705.76,123.87 717.24,142.09 728.71,156.92 740.19,163.97 751.67,170.04" fill="none" stroke="#000" stroke-width="1.2"/><polyline points="590.98,167.61 602.46,38.33 613.93,44.9 625.41,57.05 636.89,66.77 648.37,71.63 659.85,77.7 671.32,82.56 682.8,87.18 694.28,94.71 705.76,109.29 717.24,133.59 728.71,142.82 740.19,153.03 751.67,164.69" fill="none" stroke="#000" stroke-width="1.2"/><polyline points="590.98,160.32 602.46,36.88 613.93,43.92 625.41,56.07 636.89,65.55 648.37,70.17 659.85,76 671.32,80.62 682.8,81.34 694.28,88.64 705.76,104.92 717.24,124.11 728.71,150.6 740.19,162.75 751.67,171.98" fill="none" stroke="#000" stroke-width="1.2"/><polyline points="590.98,167.61 602.46,26.43 613.93,29.1 625.41,42.71 636.89,53.4 648.37,61.18 659.85,66.52 671.32,71.38 682.8,78.67 694.28,87.18 705.76,99.33 717.24,116.09 728.71,126.3 740.19,146.23 751.67,156.92" fill="none" stroke="#000" stroke-width="1.2"/><path d="M590.98 157.75V167.75M586.68 157.75H595.28M586.68 167.75H595.28" stroke="#000" stroke-width="1.2" fill="none"/><path d="M602.46 50.43V66.09M598.16 50.43H606.76M598.16 66.09H606.76" stroke="#000" stroke-width="1.2" fill="none"/><path d="M613.93 56.55V71.63M609.63 56.55H618.23M609.63 71.63H618.23" stroke="#000" stroke-width="1.2" fill="none"/><path d="M625.41 64.46V78.79M621.11 64.46H629.71M621.11 78.79H629.71" stroke="#000" stroke-width="1.2" fill="none"/><path d="M636.89 73.14V86.64M632.59 73.14H641.19M632.59 86.64H641.19" stroke="#000" stroke-width="1.2" fill="none"/><path d="M648.37 78.49V91.49M644.07 78.49H652.67M644.07 91.49H652.67" stroke="#000" stroke-width="1.2" fill="none"/><path d="M659.85 82.58V95.18M655.55 82.58H664.15M655.55 95.18H664.15" stroke="#000" stroke-width="1.2" fill="none"/><path d="M671.32 86.4V98.64M667.02 86.4H675.62M667.02 98.64H675.62" stroke="#000" stroke-width="1.2" fill="none"/><path d="M682.8 95.33V106.72M678.5 95.33H687.1M678.5 106.72H687.1" stroke="#000" stroke-width="1.2" fill="none"/><path d="M694.28 100.18V111.11M689.98 100.18H698.58M689.98 111.11H698.58" stroke="#000" stroke-width="1.2" fill="none"/><path d="M705.76 119.32V128.42M701.46 119.32H710.06M701.46 128.42H710.06" stroke="#000" stroke-width="1.2" fill="none"/><path d="M717.24 138.45V145.74M712.94 138.45H721.54M712.94 145.74H721.54" stroke="#000" stroke-width="1.2" fill="none"/><path d="M728.71 154.02V159.82M724.41 154.02H733.01M724.41 159.82H733.01" stroke="#000" stroke-width="1.2" fill="none"/><path d="M740.19 161.42V166.51M735.89 161.42H744.49M735.89 166.51H744.49" stroke="#000" stroke-width="1.2" fill="none"/><path d="M751.67 167.8V172.28M747.37 167.8H755.97M747.37 172.28H755.97" stroke="#000" stroke-width="1.2" fill="none"/><path d="M590.98 163.61V171.61M586.68 163.61H595.28M586.68 171.61H595.28" stroke="#000" stroke-width="1.2" fill="none"/><path d="M602.46 29.51V47.16M598.16 29.51H606.76M598.16 47.16H606.76" stroke="#000" stroke-width="1.2" fill="none"/><path d="M613.93 36.39V53.4M609.63 36.39H618.23M609.63 53.4H618.23" stroke="#000" stroke-width="1.2" fill="none"/><path d="M625.41 49.15V64.94M621.11 49.15H629.71M621.11 64.94H629.71" stroke="#000" stroke-width="1.2" fill="none"/><path d="M636.89 59.36V74.17M632.59 59.36H641.19M632.59 74.17H641.19" stroke="#000" stroke-width="1.2" fill="none"/><path d="M648.37 64.46V78.79M644.07 64.46H652.67M644.07 78.79H652.67" stroke="#000" stroke-width="1.2" fill="none"/><path d="M659.85 70.84V84.56M655.55 70.84H664.15M655.55 84.56H664.15" stroke="#000" stroke-width="1.2" fill="none"/><path d="M671.32 75.94V89.18M667.02 75.94H675.62M667.02 89.18H675.62" stroke="#000" stroke-width="1.2" fill="none"/><path d="M682.8 80.79V93.56M678.5 80.79H687.1M678.5 93.56H687.1" stroke="#000" stroke-width="1.2" fill="none"/><path d="M694.28 88.7V100.72M689.98 88.7H698.58M689.98 100.72H698.58" stroke="#000" stroke-width="1.2" fill="none"/><path d="M705.76 104.01V114.57M701.46 104.01H710.06M701.46 114.57H710.06" stroke="#000" stroke-width="1.2" fill="none"/><path d="M717.24 129.52V137.66M712.94 129.52H721.54M712.94 137.66H721.54" stroke="#000" stroke-width="1.2" fill="none"/><path d="M728.71 139.22V146.43M724.41 139.22H733.01M724.41 146.43H733.01" stroke="#000" stroke-width="1.2" fill="none"/><path d="M740.19 149.94V156.12M735.89 149.94H744.49M735.89 156.12H744.49" stroke="#000" stroke-width="1.2" fill="none"/><path d="M751.67 162.18V167.2M747.37 162.18H755.97M747.37 167.2H755.97" stroke="#000" stroke-width="1.2" fill="none"/><path d="M590.98 153.82V166.82M586.68 153.82H595.28M586.68 166.82H595.28" stroke="#000" stroke-width="1.2" fill="none"/><path d="M602.46 27.97V45.78M598.16 27.97H606.76M598.16 45.78H606.76" stroke="#000" stroke-width="1.2" fill="none"/><path d="M613.93 35.37V52.47M609.63 35.37H618.23M609.63 52.47H618.23" stroke="#000" stroke-width="1.2" fill="none"/><path d="M625.41 48.13V64.01M621.11 48.13H629.71M621.11 64.01H629.71" stroke="#000" stroke-width="1.2" fill="none"/><path d="M636.89 58.08V73.02M632.59 58.08H641.19M632.59 73.02H641.19" stroke="#000" stroke-width="1.2" fill="none"/><path d="M648.37 62.93V77.4M644.07 62.93H652.67M644.07 77.4H652.67" stroke="#000" stroke-width="1.2" fill="none"/><path d="M659.85 69.05V82.94M655.55 69.05H664.15M655.55 82.94H664.15" stroke="#000" stroke-width="1.2" fill="none"/><path d="M671.32 73.9V87.33M667.02 73.9H675.62M667.02 87.33H675.62" stroke="#000" stroke-width="1.2" fill="none"/><path d="M682.8 74.67V88.02M678.5 74.67H687.1M678.5 88.02H687.1" stroke="#000" stroke-width="1.2" fill="none"/><path d="M694.28 82.32V94.95M689.98 82.32H698.58M689.98 94.95H698.58" stroke="#000" stroke-width="1.2" fill="none"/><path d="M705.76 99.42V110.42M701.46 99.42H710.06M701.46 110.42H710.06" stroke="#000" stroke-width="1.2" fill="none"/><path d="M717.24 119.57V128.65M712.94 119.57H721.54M712.94 128.65H721.54" stroke="#000" stroke-width="1.2" fill="none"/><path d="M728.71 147.38V153.81M724.41 147.38H733.01M724.41 153.81H733.01" stroke="#000" stroke-width="1.2" fill="none"/><path d="M740.19 160.14V165.36M735.89 160.14H744.49M735.89 165.36H744.49" stroke="#000" stroke-width="1.2" fill="none"/><path d="M751.67 170.48V173.48M747.37 170.48H755.97M747.37 173.48H755.97" stroke="#000" stroke-width="1.2" fill="none"/><path d="M590.98 163.61V171.61M586.68 163.61H595.28M586.68 171.61H595.28" stroke="#000" stroke-width="1.2" fill="none"/><path d="M602.46 17V35.85M598.16 17H606.76M598.16 35.85H606.76" stroke="#000" stroke-width="1.2" fill="none"/><path d="M613.93 19.81V38.39M609.63 19.81H618.23M609.63 38.39H618.23" stroke="#000" stroke-width="1.2" fill="none"/><path d="M625.41 34.1V51.32M621.11 34.1H629.71M621.11 51.32H629.71" stroke="#000" stroke-width="1.2" fill="none"/><path d="M636.89 45.33V61.48M632.59 45.33H641.19M632.59 61.48H641.19" stroke="#000" stroke-width="1.2" fill="none"/><path d="M648.37 53.49V68.86M644.07 53.49H652.67M644.07 68.86H652.67" stroke="#000" stroke-width="1.2" fill="none"/><path d="M659.85 59.1V73.94M655.55 59.1H664.15M655.55 73.94H664.15" stroke="#000" stroke-width="1.2" fill="none"/><path d="M671.32 64.21V78.56M667.02 64.21H675.62M667.02 78.56H675.62" stroke="#000" stroke-width="1.2" fill="none"/><path d="M682.8 71.86V85.48M678.5 71.86H687.1M678.5 85.48H687.1" stroke="#000" stroke-width="1.2" fill="none"/><path d="M694.28 80.79V93.56M689.98 80.79H698.58M689.98 93.56H698.58" stroke="#000" stroke-width="1.2" fill="none"/><path d="M705.76 93.55V105.11M701.46 93.55H710.06M701.46 105.11H710.06" stroke="#000" stroke-width="1.2" fill="none"/><path d="M717.24 111.15V121.03M712.94 111.15H721.54M712.94 121.03H721.54" stroke="#000" stroke-width="1.2" fill="none"/><path d="M728.71 121.87V130.73M724.41 121.87H733.01M724.41 130.73H733.01" stroke="#000" stroke-width="1.2" fill="none"/><path d="M740.19 142.79V149.66M735.89 142.79H744.49M735.89 149.66H744.49" stroke="#000" stroke-width="1.2" fill="none"/><path d="M751.67 154.02V159.82M747.37 154.02H755.97M747.37 159.82H755.97" stroke="#000" stroke-width="1.2" fill="none"/><circle cx="590.98" cy="162.75" r="4.2" fill="#000"/><circle cx="602.46" cy="58.26" r="4.2" fill="#000"/><circle cx="613.93" cy="64.09" r="4.2" fill="#000"/><circle cx="625.41" cy="71.63" r="4.2" fill="#000"/><circle cx="636.89" cy="79.89" r="4.2" fill="#000"/><circle cx="648.37" cy="84.99" r="4.2" fill="#000"/><circle cx="659.85" cy="88.88" r="4.2" fill="#000"/><circle cx="671.32" cy="92.52" r="4.2" fill="#000"/><circle cx="682.8" cy="101.03" r="4.2" fill="#000"/><circle cx="694.28" cy="105.65" r="4.2" fill="#000"/><circle cx="705.76" cy="123.87" r="4.2" fill="#000"/><circle cx="717.24" cy="142.09" r="4.2" fill="#000"/><circle cx="728.71" cy="156.92" r="4.2" fill="#000"/><circle cx="740.19" cy="163.97" r="4.2" fill="#000"/><circle cx="751.67" cy="170.04" r="4.2" fill="#000"/><circle cx="590.98" cy="167.61" r="3.7" fill="#fff" stroke="#000" stroke-width="1.1"/><circle cx="602.46" cy="38.33" r="3.7" fill="#fff" stroke="#000" stroke-width="1.1"/><circle cx="613.93" cy="44.9" r="3.7" fill="#fff" stroke="#000" stroke-width="1.1"/><circle cx="625.41" cy="57.05" r="3.7" fill="#fff" stroke="#000" stroke-width="1.1"/><circle cx="636.89" cy="66.77" r="3.7" fill="#fff" stroke="#000" stroke-width="1.1"/><circle cx="648.37" cy="71.63" r="3.7" fill="#fff" stroke="#000" stroke-width="1.1"/><circle cx="659.85" cy="77.7" r="3.7" fill="#fff" stroke="#000" stroke-width="1.1"/><circle cx="671.32" cy="82.56" r="3.7" fill="#fff" stroke="#000" stroke-width="1.1"/><circle cx="682.8" cy="87.18" r="3.7" fill="#fff" stroke="#000" stroke-width="1.1"/><circle cx="694.28" cy="94.71" r="3.7" fill="#fff" stroke="#000" stroke-width="1.1"/><circle cx="705.76" cy="109.29" r="3.7" fill="#fff" stroke="#000" stroke-width="1.1"/><circle cx="717.24" cy="133.59" r="3.7" fill="#fff" stroke="#000" stroke-width="1.1"/><circle cx="728.71" cy="142.82" r="3.7" fill="#fff" stroke="#000" stroke-width="1.1"/><circle cx="740.19" cy="153.03" r="3.7" fill="#fff" stroke="#000" stroke-width="1.1"/><circle cx="751.67" cy="164.69" r="3.7" fill="#fff" stroke="#000" stroke-width="1.1"/><path d="M586.88 157.32H595.08L590.98 164.12Z" fill="#000"/><path d="M598.36 33.88H606.56L602.46 40.68Z" fill="#000"/><path d="M609.83 40.92H618.03L613.93 47.72Z" fill="#000"/><path d="M621.31 53.07H629.51L625.41 59.87Z" fill="#000"/><path d="M632.79 62.55H640.99L636.89 69.35Z" fill="#000"/><path d="M644.27 67.17H652.47L648.37 73.97Z" fill="#000"/><path d="M655.75 73H663.95L659.85 79.8Z" fill="#000"/><path d="M667.22 77.62H675.42L671.32 84.42Z" fill="#000"/><path d="M678.7 78.34H686.9L682.8 85.14Z" fill="#000"/><path d="M690.18 85.64H698.38L694.28 92.44Z" fill="#000"/><path d="M701.66 101.92H709.86L705.76 108.72Z" fill="#000"/><path d="M713.14 121.11H721.34L717.24 127.91Z" fill="#000"/><path d="M724.61 147.6H732.81L728.71 154.4Z" fill="#000"/><path d="M736.09 159.75H744.29L740.19 166.55Z" fill="#000"/><path d="M747.57 168.98H755.77L751.67 175.78Z" fill="#000"/><path d="M587.28 164.81H594.68L590.98 171.21Z" fill="#fff" stroke="#000" stroke-width="1.1"/><path d="M598.76 23.63H606.16L602.46 30.03Z" fill="#fff" stroke="#000" stroke-width="1.1"/><path d="M610.23 26.3H617.63L613.93 32.7Z" fill="#fff" stroke="#000" stroke-width="1.1"/><path d="M621.71 39.91H629.11L625.41 46.31Z" fill="#fff" stroke="#000" stroke-width="1.1"/><path d="M633.19 50.6H640.59L636.89 57Z" fill="#fff" stroke="#000" stroke-width="1.1"/><path d="M644.67 58.38H652.07L648.37 64.78Z" fill="#fff" stroke="#000" stroke-width="1.1"/><path d="M656.15 63.72H663.55L659.85 70.12Z" fill="#fff" stroke="#000" stroke-width="1.1"/><path d="M667.62 68.58H675.02L671.32 74.98Z" fill="#fff" stroke="#000" stroke-width="1.1"/><path d="M679.1 75.87H686.5L682.8 82.27Z" fill="#fff" stroke="#000" stroke-width="1.1"/><path d="M690.58 84.38H697.98L694.28 90.78Z" fill="#fff" stroke="#000" stroke-width="1.1"/><path d="M702.06 96.53H709.46L705.76 102.93Z" fill="#fff" stroke="#000" stroke-width="1.1"/><path d="M713.54 113.29H720.94L717.24 119.69Z" fill="#fff" stroke="#000" stroke-width="1.1"/><path d="M725.01 123.5H732.41L728.71 129.9Z" fill="#fff" stroke="#000" stroke-width="1.1"/><path d="M736.49 143.43H743.89L740.19 149.83Z" fill="#fff" stroke="#000" stroke-width="1.1"/><path d="M747.97 154.12H755.37L751.67 160.52Z" fill="#fff" stroke="#000" stroke-width="1.1"/><rect x="708.2" y="6.4" width="57.8" height="82.7" fill="#fff"/><path d="M710.2 9.4V80.1H764" fill="none" stroke="#000" stroke-width="1.2"/><text transform="translate(708.7 15.2) scale(0.86 1)" text-anchor="end" class="il">18</text><text transform="translate(708.7 84) scale(0.86 1)" text-anchor="end" class="il">0</text><rect x="717.4" y="34.8" width="6.7" height="45.3" fill="#000"/><path d="M720.75 34.8V32.3M718.25 32.3H723.25" stroke="#000" stroke-width="1"/><text x="720.75" y="87.4" text-anchor="middle" class="ql">Q1</text><rect x="728.6" y="25.8" width="6.7" height="54.3" fill="#000"/><path d="M731.95 25.8V23.3M729.45 23.3H734.45" stroke="#000" stroke-width="1"/><text x="731.95" y="87.4" text-anchor="middle" class="ql">Q2</text><rect x="739.4" y="25.1" width="6.7" height="55" fill="#000"/><path d="M742.75 25.1V22.6M740.25 22.6H745.25" stroke="#000" stroke-width="1"/><text x="742.75" y="87.4" text-anchor="middle" class="ql">Q3</text><rect x="750.6" y="17.5" width="6.7" height="62.6" fill="#000"/><path d="M753.95 17.5V15M751.45 15H756.45" stroke="#000" stroke-width="1"/><text x="753.95" y="87.4" text-anchor="middle" class="ql">Q4</text><path d="M719.8 11.5H754" stroke="#000" stroke-width="1"/><path d="M719.8 11.5V14" stroke="#000" stroke-width="1"/><path d="M732 11.5V14" stroke="#000" stroke-width="1"/><path d="M742.7 11.5V14" stroke="#000" stroke-width="1"/><path d="M754 11.5V15" stroke="#000" stroke-width="1"/><text x="738" y="13" text-anchor="middle" class="st">**</text><path d="M719.8 16.4H742.7" stroke="#000" stroke-width="1"/><path d="M719.8 16.4V30" stroke="#000" stroke-width="1"/><path d="M742.7 16.4V21" stroke="#000" stroke-width="1"/><text x="732" y="19" text-anchor="middle" class="st">*</text></g><g><path d="M47.5 210.4H244.3V400.8H53.5V213.4" fill="none" stroke="#000" stroke-width="1.3"/><line x1="47.5" y1="376.5" x2="53.5" y2="376.5" stroke="#000" stroke-width="1.3" stroke-dasharray="1.6 2.6 2"/><text x="42" y="380.7" text-anchor="end" class="tl">0.0</text><line x1="47.5" y1="348.82" x2="53.5" y2="348.82" stroke="#000" stroke-width="1.3" stroke-dasharray="1.6 2.6 2"/><text x="42" y="353.02" text-anchor="end" class="tl">0.5</text><line x1="47.5" y1="321.13" x2="53.5" y2="321.13" stroke="#000" stroke-width="1.3" stroke-dasharray="1.6 2.6 2"/><text x="42" y="325.33" text-anchor="end" class="tl">1.0</text><line x1="47.5" y1="293.45" x2="53.5" y2="293.45" stroke="#000" stroke-width="1.3" stroke-dasharray="1.6 2.6 2"/><text x="42" y="297.65" text-anchor="end" class="tl">1.5</text><line x1="47.5" y1="265.77" x2="53.5" y2="265.77" stroke="#000" stroke-width="1.3" stroke-dasharray="1.6 2.6 2"/><text x="42" y="269.97" text-anchor="end" class="tl">2.0</text><line x1="47.5" y1="238.08" x2="53.5" y2="238.08" stroke="#000" stroke-width="1.3" stroke-dasharray="1.6 2.6 2"/><text x="42" y="242.28" text-anchor="end" class="tl">2.5</text><line x1="47.5" y1="210.4" x2="53.5" y2="210.4" stroke="#000" stroke-width="1.3"/><text x="42" y="214.6" text-anchor="end" class="tl">3.0</text><rect x="240.3" y="399.3" width="2.6" height="3" fill="#fff"/><line x1="53.5" y1="400.8" x2="53.5" y2="405.3" stroke="#000" stroke-width="1.3"/><text x="53.5" y="421.8" text-anchor="middle" class="tl">0</text><line x1="91.66" y1="400.8" x2="91.66" y2="405.3" stroke="#000" stroke-width="1.3"/><text x="91.66" y="421.8" text-anchor="middle" class="tl">10</text><line x1="129.82" y1="400.8" x2="129.82" y2="405.3" stroke="#000" stroke-width="1.3"/><text x="129.82" y="421.8" text-anchor="middle" class="tl">20</text><line x1="167.98" y1="400.8" x2="167.98" y2="405.3" stroke="#000" stroke-width="1.3"/><text x="167.98" y="421.8" text-anchor="middle" class="tl">30</text><line x1="206.14" y1="400.8" x2="206.14" y2="405.3" stroke="#000" stroke-width="1.3"/><text x="206.14" y="421.8" text-anchor="middle" class="tl">40</text><line x1="244.3" y1="400.8" x2="244.3" y2="405.3" stroke="#000" stroke-width="1.3"/><text x="244.3" y="421.8" text-anchor="middle" class="tl">50</text><text x="148.9" y="443" text-anchor="middle" class="al">Radius</text><text transform="translate(13 305.6) rotate(-90)" text-anchor="middle" class="al">Nodes</text><polyline points="64.95,375.39 76.4,354.35 87.84,309.51 99.29,306.74 110.74,309.51 122.19,328.33 133.64,347.16 145.08,364.32 156.53,364.87 167.98,369.3 179.43,370.41 190.88,374.84 202.32,375.39 213.77,375.39 225.22,375.39" fill="none" stroke="#000" stroke-width="1.2"/><polyline points="64.95,375.39 76.4,353.25 87.84,295.66 99.29,244.17 110.74,280.16 122.19,301.2 133.64,323.9 145.08,343.83 156.53,347.16 167.98,365.43 179.43,368.19 190.88,372.07 202.32,374.29 213.77,374.84 225.22,375.39" fill="none" stroke="#000" stroke-width="1.2"/><polyline points="64.95,375.39 76.4,351.03 87.84,281.27 99.29,235.31 110.74,271.3 122.19,275.73 133.64,307.85 145.08,341.62 156.53,346.05 167.98,365.43 179.43,366.53 190.88,372.07 202.32,375.95 213.77,375.39 225.22,375.39" fill="none" stroke="#000" stroke-width="1.2"/><polyline points="64.95,375.39 76.4,363.21 87.84,280.16 99.29,244.17 110.74,251.93 122.19,274.63 133.64,298.43 145.08,306.18 156.53,339.96 167.98,361 179.43,361.55 190.88,368.19 202.32,372.62 213.77,374.29 225.22,375.39" fill="none" stroke="#000" stroke-width="1.2"/><path d="M64.95 373.89V376.89M60.65 373.89H69.25M60.65 376.89H69.25" stroke="#000" stroke-width="1.2" fill="none"/><path d="M76.4 349.14V359.57M72.1 349.14H80.7M72.1 359.57H80.7" stroke="#000" stroke-width="1.2" fill="none"/><path d="M87.84 301.82V317.19M83.54 301.82H92.14M83.54 317.19H92.14" stroke="#000" stroke-width="1.2" fill="none"/><path d="M99.29 298.9V314.57M94.99 298.9H103.59M94.99 314.57H103.59" stroke="#000" stroke-width="1.2" fill="none"/><path d="M110.74 301.82V317.19M106.44 301.82H115.04M106.44 317.19H115.04" stroke="#000" stroke-width="1.2" fill="none"/><path d="M122.19 321.68V334.98M117.89 321.68H126.49M117.89 334.98H126.49" stroke="#000" stroke-width="1.2" fill="none"/><path d="M133.64 341.54V352.77M129.34 341.54H137.94M129.34 352.77H137.94" stroke="#000" stroke-width="1.2" fill="none"/><path d="M145.08 359.65V368.99M140.78 359.65H149.38M140.78 368.99H149.38" stroke="#000" stroke-width="1.2" fill="none"/><path d="M156.53 360.23V369.51M152.23 360.23H160.83M152.23 369.51H160.83" stroke="#000" stroke-width="1.2" fill="none"/><path d="M167.98 364.91V373.7M163.68 364.91H172.28M163.68 373.7H172.28" stroke="#000" stroke-width="1.2" fill="none"/><path d="M179.43 366.07V374.74M175.13 366.07H183.73M175.13 374.74H183.73" stroke="#000" stroke-width="1.2" fill="none"/><path d="M190.88 373.34V376.34M186.58 373.34H195.18M186.58 376.34H195.18" stroke="#000" stroke-width="1.2" fill="none"/><path d="M202.32 373.89V376.89M198.02 373.89H206.62M198.02 376.89H206.62" stroke="#000" stroke-width="1.2" fill="none"/><path d="M213.77 373.89V376.89M209.47 373.89H218.07M209.47 376.89H218.07" stroke="#000" stroke-width="1.2" fill="none"/><path d="M225.22 373.89V376.89M220.92 373.89H229.52M220.92 376.89H229.52" stroke="#000" stroke-width="1.2" fill="none"/><path d="M64.95 373.89V376.89M60.65 373.89H69.25M60.65 376.89H69.25" stroke="#000" stroke-width="1.2" fill="none"/><path d="M76.4 347.97V358.52M72.1 347.97H80.7M72.1 358.52H80.7" stroke="#000" stroke-width="1.2" fill="none"/><path d="M87.84 287.22V304.11M83.54 287.22H92.14M83.54 304.11H92.14" stroke="#000" stroke-width="1.2" fill="none"/><path d="M99.29 232.9V255.45M94.99 232.9H103.59M94.99 255.45H103.59" stroke="#000" stroke-width="1.2" fill="none"/><path d="M110.74 270.86V289.46M106.44 270.86H115.04M106.44 289.46H115.04" stroke="#000" stroke-width="1.2" fill="none"/><path d="M122.19 293.06V309.34M117.89 293.06H126.49M117.89 309.34H126.49" stroke="#000" stroke-width="1.2" fill="none"/><path d="M133.64 317.01V330.79M129.34 317.01H137.94M129.34 330.79H137.94" stroke="#000" stroke-width="1.2" fill="none"/><path d="M145.08 338.04V349.63M140.78 338.04H149.38M140.78 349.63H149.38" stroke="#000" stroke-width="1.2" fill="none"/><path d="M156.53 341.54V352.77M152.23 341.54H160.83M152.23 352.77H160.83" stroke="#000" stroke-width="1.2" fill="none"/><path d="M167.98 360.82V370.04M163.68 360.82H172.28M163.68 370.04H172.28" stroke="#000" stroke-width="1.2" fill="none"/><path d="M179.43 363.74V372.65M175.13 363.74H183.73M175.13 372.65H183.73" stroke="#000" stroke-width="1.2" fill="none"/><path d="M190.88 367.83V376.31M186.58 367.83H195.18M186.58 376.31H195.18" stroke="#000" stroke-width="1.2" fill="none"/><path d="M202.32 372.79V375.79M198.02 372.79H206.62M198.02 375.79H206.62" stroke="#000" stroke-width="1.2" fill="none"/><path d="M213.77 373.34V376.34M209.47 373.34H218.07M209.47 376.34H218.07" stroke="#000" stroke-width="1.2" fill="none"/><path d="M225.22 373.89V376.89M220.92 373.89H229.52M220.92 376.89H229.52" stroke="#000" stroke-width="1.2" fill="none"/><path d="M64.95 373.89V376.89M60.65 373.89H69.25M60.65 376.89H69.25" stroke="#000" stroke-width="1.2" fill="none"/><path d="M76.4 345.63V356.43M72.1 345.63H80.7M72.1 356.43H80.7" stroke="#000" stroke-width="1.2" fill="none"/><path d="M87.84 272.03V290.51M83.54 272.03H92.14M83.54 290.51H92.14" stroke="#000" stroke-width="1.2" fill="none"/><path d="M99.29 223.55V247.08M94.99 223.55H103.59M94.99 247.08H103.59" stroke="#000" stroke-width="1.2" fill="none"/><path d="M110.74 261.52V281.09M106.44 261.52H115.04M106.44 281.09H115.04" stroke="#000" stroke-width="1.2" fill="none"/><path d="M122.19 266.19V285.27M117.89 266.19H126.49M117.89 285.27H126.49" stroke="#000" stroke-width="1.2" fill="none"/><path d="M133.64 300.07V315.62M129.34 300.07H137.94M129.34 315.62H137.94" stroke="#000" stroke-width="1.2" fill="none"/><path d="M145.08 335.7V347.54M140.78 335.7H149.38M140.78 347.54H149.38" stroke="#000" stroke-width="1.2" fill="none"/><path d="M156.53 340.37V351.72M152.23 340.37H160.83M152.23 351.72H160.83" stroke="#000" stroke-width="1.2" fill="none"/><path d="M167.98 360.82V370.04M163.68 360.82H172.28M163.68 370.04H172.28" stroke="#000" stroke-width="1.2" fill="none"/><path d="M179.43 361.99V371.08M175.13 361.99H183.73M175.13 371.08H183.73" stroke="#000" stroke-width="1.2" fill="none"/><path d="M190.88 367.83V376.31M186.58 367.83H195.18M186.58 376.31H195.18" stroke="#000" stroke-width="1.2" fill="none"/><path d="M202.32 374.45V377.45M198.02 374.45H206.62M198.02 377.45H206.62" stroke="#000" stroke-width="1.2" fill="none"/><path d="M213.77 373.89V376.89M209.47 373.89H218.07M209.47 376.89H218.07" stroke="#000" stroke-width="1.2" fill="none"/><path d="M225.22 373.89V376.89M220.92 373.89H229.52M220.92 376.89H229.52" stroke="#000" stroke-width="1.2" fill="none"/><path d="M64.95 373.89V376.89M60.65 373.89H69.25M60.65 376.89H69.25" stroke="#000" stroke-width="1.2" fill="none"/><path d="M76.4 358.48V367.94M72.1 358.48H80.7M72.1 367.94H80.7" stroke="#000" stroke-width="1.2" fill="none"/><path d="M87.84 270.86V289.46M83.54 270.86H92.14M83.54 289.46H92.14" stroke="#000" stroke-width="1.2" fill="none"/><path d="M99.29 232.9V255.45M94.99 232.9H103.59M94.99 255.45H103.59" stroke="#000" stroke-width="1.2" fill="none"/><path d="M110.74 241.07V262.78M106.44 241.07H115.04M106.44 262.78H115.04" stroke="#000" stroke-width="1.2" fill="none"/><path d="M122.19 265.02V284.23M117.89 265.02H126.49M117.89 284.23H126.49" stroke="#000" stroke-width="1.2" fill="none"/><path d="M133.64 290.14V306.73M129.34 290.14H137.94M129.34 306.73H137.94" stroke="#000" stroke-width="1.2" fill="none"/><path d="M145.08 298.32V314.05M140.78 298.32H149.38M140.78 314.05H149.38" stroke="#000" stroke-width="1.2" fill="none"/><path d="M156.53 333.95V345.97M152.23 333.95H160.83M152.23 345.97H160.83" stroke="#000" stroke-width="1.2" fill="none"/><path d="M167.98 356.14V365.85M163.68 356.14H172.28M163.68 365.85H172.28" stroke="#000" stroke-width="1.2" fill="none"/><path d="M179.43 356.73V366.37M175.13 356.73H183.73M175.13 366.37H183.73" stroke="#000" stroke-width="1.2" fill="none"/><path d="M190.88 363.74V372.65M186.58 363.74H195.18M186.58 372.65H195.18" stroke="#000" stroke-width="1.2" fill="none"/><path d="M202.32 368.41V376.84M198.02 368.41H206.62M198.02 376.84H206.62" stroke="#000" stroke-width="1.2" fill="none"/><path d="M213.77 372.79V375.79M209.47 372.79H218.07M209.47 375.79H218.07" stroke="#000" stroke-width="1.2" fill="none"/><path d="M225.22 373.89V376.89M220.92 373.89H229.52M220.92 376.89H229.52" stroke="#000" stroke-width="1.2" fill="none"/><circle cx="64.95" cy="375.39" r="4.2" fill="#000"/><circle cx="76.4" cy="354.35" r="4.2" fill="#000"/><circle cx="87.84" cy="309.51" r="4.2" fill="#000"/><circle cx="99.29" cy="306.74" r="4.2" fill="#000"/><circle cx="110.74" cy="309.51" r="4.2" fill="#000"/><circle cx="122.19" cy="328.33" r="4.2" fill="#000"/><circle cx="133.64" cy="347.16" r="4.2" fill="#000"/><circle cx="145.08" cy="364.32" r="4.2" fill="#000"/><circle cx="156.53" cy="364.87" r="4.2" fill="#000"/><circle cx="167.98" cy="369.3" r="4.2" fill="#000"/><circle cx="179.43" cy="370.41" r="4.2" fill="#000"/><circle cx="190.88" cy="374.84" r="4.2" fill="#000"/><circle cx="202.32" cy="375.39" r="4.2" fill="#000"/><circle cx="213.77" cy="375.39" r="4.2" fill="#000"/><circle cx="225.22" cy="375.39" r="4.2" fill="#000"/><circle cx="64.95" cy="375.39" r="3.7" fill="#fff" stroke="#000" stroke-width="1.1"/><circle cx="76.4" cy="353.25" r="3.7" fill="#fff" stroke="#000" stroke-width="1.1"/><circle cx="87.84" cy="295.66" r="3.7" fill="#fff" stroke="#000" stroke-width="1.1"/><circle cx="99.29" cy="244.17" r="3.7" fill="#fff" stroke="#000" stroke-width="1.1"/><circle cx="110.74" cy="280.16" r="3.7" fill="#fff" stroke="#000" stroke-width="1.1"/><circle cx="122.19" cy="301.2" r="3.7" fill="#fff" stroke="#000" stroke-width="1.1"/><circle cx="133.64" cy="323.9" r="3.7" fill="#fff" stroke="#000" stroke-width="1.1"/><circle cx="145.08" cy="343.83" r="3.7" fill="#fff" stroke="#000" stroke-width="1.1"/><circle cx="156.53" cy="347.16" r="3.7" fill="#fff" stroke="#000" stroke-width="1.1"/><circle cx="167.98" cy="365.43" r="3.7" fill="#fff" stroke="#000" stroke-width="1.1"/><circle cx="179.43" cy="368.19" r="3.7" fill="#fff" stroke="#000" stroke-width="1.1"/><circle cx="190.88" cy="372.07" r="3.7" fill="#fff" stroke="#000" stroke-width="1.1"/><circle cx="202.32" cy="374.29" r="3.7" fill="#fff" stroke="#000" stroke-width="1.1"/><circle cx="213.77" cy="374.84" r="3.7" fill="#fff" stroke="#000" stroke-width="1.1"/><circle cx="225.22" cy="375.39" r="3.7" fill="#fff" stroke="#000" stroke-width="1.1"/><path d="M60.85 372.39H69.05L64.95 379.19Z" fill="#000"/><path d="M72.3 348.03H80.5L76.4 354.83Z" fill="#000"/><path d="M83.74 278.27H91.94L87.84 285.07Z" fill="#000"/><path d="M95.19 232.31H103.39L99.29 239.12Z" fill="#000"/><path d="M106.64 268.3H114.84L110.74 275.1Z" fill="#000"/><path d="M118.09 272.73H126.29L122.19 279.53Z" fill="#000"/><path d="M129.54 304.85H137.74L133.64 311.65Z" fill="#000"/><path d="M140.98 338.62H149.18L145.08 345.42Z" fill="#000"/><path d="M152.43 343.05H160.63L156.53 349.85Z" fill="#000"/><path d="M163.88 362.43H172.08L167.98 369.23Z" fill="#000"/><path d="M175.33 363.53H183.53L179.43 370.33Z" fill="#000"/><path d="M186.78 369.07H194.98L190.88 375.87Z" fill="#000"/><path d="M198.22 372.95H206.42L202.32 379.75Z" fill="#000"/><path d="M209.67 372.39H217.87L213.77 379.19Z" fill="#000"/><path d="M221.12 372.39H229.32L225.22 379.19Z" fill="#000"/><path d="M61.25 372.59H68.65L64.95 378.99Z" fill="#fff" stroke="#000" stroke-width="1.1"/><path d="M72.7 360.41H80.1L76.4 366.81Z" fill="#fff" stroke="#000" stroke-width="1.1"/><path d="M84.14 277.36H91.54L87.84 283.76Z" fill="#fff" stroke="#000" stroke-width="1.1"/><path d="M95.59 241.37H102.99L99.29 247.77Z" fill="#fff" stroke="#000" stroke-width="1.1"/><path d="M107.04 249.12H114.44L110.74 255.53Z" fill="#fff" stroke="#000" stroke-width="1.1"/><path d="M118.49 271.83H125.89L122.19 278.23Z" fill="#fff" stroke="#000" stroke-width="1.1"/><path d="M129.94 295.63H137.34L133.64 302.03Z" fill="#fff" stroke="#000" stroke-width="1.1"/><path d="M141.38 303.38H148.78L145.08 309.78Z" fill="#fff" stroke="#000" stroke-width="1.1"/><path d="M152.83 337.16H160.23L156.53 343.56Z" fill="#fff" stroke="#000" stroke-width="1.1"/><path d="M164.28 358.2H171.68L167.98 364.6Z" fill="#fff" stroke="#000" stroke-width="1.1"/><path d="M175.73 358.75H183.13L179.43 365.15Z" fill="#fff" stroke="#000" stroke-width="1.1"/><path d="M187.18 365.39H194.58L190.88 371.8Z" fill="#fff" stroke="#000" stroke-width="1.1"/><path d="M198.62 369.82H206.02L202.32 376.22Z" fill="#fff" stroke="#000" stroke-width="1.1"/><path d="M210.07 371.49H217.47L213.77 377.89Z" fill="#fff" stroke="#000" stroke-width="1.1"/><path d="M221.52 372.59H228.92L225.22 378.99Z" fill="#fff" stroke="#000" stroke-width="1.1"/><rect x="172.6" y="211.1" width="67.3" height="78.1" fill="#fff"/><path d="M174.6 214.1V280.2H237.9" fill="none" stroke="#000" stroke-width="1.2"/><text transform="translate(173.1 221.1) scale(0.86 1)" text-anchor="end" class="il">50</text><text transform="translate(173.1 284.8) scale(0.86 1)" text-anchor="end" class="il">0</text><rect x="184.3" y="256.6" width="7.7" height="23.6" fill="#000"/><path d="M188.15 256.6V254.1M185.65 254.1H190.65" stroke="#000" stroke-width="1"/><text x="188.15" y="287.5" text-anchor="middle" class="ql">Q1</text><rect x="197.4" y="241" width="7.5" height="39.2" fill="#000"/><path d="M201.15 241V238.5M198.65 238.5H203.65" stroke="#000" stroke-width="1"/><text x="201.15" y="287.5" text-anchor="middle" class="ql">Q2</text><rect x="210.2" y="236.4" width="7.4" height="43.8" fill="#000"/><path d="M213.9 236.4V233.9M211.4 233.9H216.4" stroke="#000" stroke-width="1"/><text x="213.9" y="287.5" text-anchor="middle" class="ql">Q3</text><rect x="223.1" y="230.9" width="7.7" height="49.3" fill="#000"/><path d="M226.95 230.9V228.4M224.45 228.4H229.45" stroke="#000" stroke-width="1"/><text x="226.95" y="287.5" text-anchor="middle" class="ql">Q4</text><path d="M188.2 222.8H227" stroke="#000" stroke-width="1"/><path d="M188.2 222.8V254" stroke="#000" stroke-width="1"/><path d="M201.2 222.8V226.5" stroke="#000" stroke-width="1"/><path d="M227 222.8V228.5" stroke="#000" stroke-width="1"/><text x="209.6" y="224.2" text-anchor="middle" class="st">***</text><path d="M201.2 230.3H213.9" stroke="#000" stroke-width="1"/><path d="M201.2 230.3V238.5" stroke="#000" stroke-width="1"/><path d="M213.9 230.3V234" stroke="#000" stroke-width="1"/><text x="207.5" y="231.7" text-anchor="middle" class="st">*</text></g><g><path d="M308.3 210.4H505.8V400.8H314.3V213.4" fill="none" stroke="#000" stroke-width="1.3"/><line x1="308.3" y1="378.9" x2="314.3" y2="378.9" stroke="#000" stroke-width="1.3"/><text x="302.8" y="383.1" text-anchor="end" class="tl">0</text><line x1="308.3" y1="354.86" x2="314.3" y2="354.86" stroke="#000" stroke-width="1.3"/><text x="302.8" y="359.06" text-anchor="end" class="tl">2</text><line x1="308.3" y1="330.81" x2="314.3" y2="330.81" stroke="#000" stroke-width="1.3"/><text x="302.8" y="335.01" text-anchor="end" class="tl">4</text><line x1="308.3" y1="306.77" x2="314.3" y2="306.77" stroke="#000" stroke-width="1.3"/><text x="302.8" y="310.97" text-anchor="end" class="tl">6</text><line x1="308.3" y1="282.73" x2="314.3" y2="282.73" stroke="#000" stroke-width="1.3"/><text x="302.8" y="286.93" text-anchor="end" class="tl">8</text><line x1="308.3" y1="258.69" x2="314.3" y2="258.69" stroke="#000" stroke-width="1.3"/><text x="302.8" y="262.89" text-anchor="end" class="tl">10</text><line x1="308.3" y1="234.64" x2="314.3" y2="234.64" stroke="#000" stroke-width="1.3"/><text x="302.8" y="238.84" text-anchor="end" class="tl">12</text><line x1="308.3" y1="210.6" x2="314.3" y2="210.6" stroke="#000" stroke-width="1.3"/><text x="302.8" y="214.8" text-anchor="end" class="tl">14</text><rect x="501.8" y="399.3" width="2.6" height="3" fill="#fff"/><line x1="314.3" y1="400.8" x2="314.3" y2="405.3" stroke="#000" stroke-width="1.3"/><text x="314.3" y="421.8" text-anchor="middle" class="tl">0</text><line x1="352.6" y1="400.8" x2="352.6" y2="405.3" stroke="#000" stroke-width="1.3"/><text x="352.6" y="421.8" text-anchor="middle" class="tl">10</text><line x1="390.9" y1="400.8" x2="390.9" y2="405.3" stroke="#000" stroke-width="1.3"/><text x="390.9" y="421.8" text-anchor="middle" class="tl">20</text><line x1="429.2" y1="400.8" x2="429.2" y2="405.3" stroke="#000" stroke-width="1.3"/><text x="429.2" y="421.8" text-anchor="middle" class="tl">30</text><line x1="467.5" y1="400.8" x2="467.5" y2="405.3" stroke="#000" stroke-width="1.3"/><text x="467.5" y="421.8" text-anchor="middle" class="tl">40</text><line x1="505.8" y1="400.8" x2="505.8" y2="405.3" stroke="#000" stroke-width="1.3"/><text x="505.8" y="421.8" text-anchor="middle" class="tl">50</text><text x="410.05" y="443" text-anchor="middle" class="al">Radius</text><text transform="translate(277 305.6) rotate(-90)" text-anchor="middle" class="al">Process volume (µm<tspan dy="-6" font-size="16.7">3</tspan><tspan dy="6">)</tspan></text><polyline points="325.79,378.9 337.28,353.65 348.77,316.15 360.26,312.78 371.75,323 383.24,330.81 394.73,345.48 406.22,359.67 417.71,365.8 429.2,367.48 440.69,371.69 452.18,375.29 463.67,377.7 475.16,378.3 486.65,378.3" fill="none" stroke="#000" stroke-width="1.2"/><polyline points="325.79,378.9 337.28,351.25 348.77,301.84 360.26,291.74 371.75,294.75 383.24,307.97 394.73,321.8 406.22,341.51 417.71,353.65 429.2,364.23 440.69,367.48 452.18,372.89 463.67,375.89 475.16,377.1 486.65,377.7" fill="none" stroke="#000" stroke-width="1.2"/><polyline points="325.79,378.9 337.28,353.65 348.77,291.74 360.26,270.35 371.75,277.2 383.24,287.3 394.73,306.77 406.22,324.8 417.71,342.48 429.2,356.06 440.69,368.68 452.18,373.49 463.67,377.7 475.16,378.3 486.65,378.3" fill="none" stroke="#000" stroke-width="1.2"/><polyline points="325.79,378.9 337.28,349.21 348.77,280.56 360.26,249.31 371.75,245.46 383.24,260.01 394.73,275.52 406.22,295.23 417.71,312.78 429.2,338.27 440.69,356.54 452.18,370 463.67,374.21 475.16,376.26 486.65,378.18" fill="none" stroke="#000" stroke-width="1.2"/><path d="M325.79 377.4V380.4M321.49 377.4H330.09M321.49 380.4H330.09" stroke="#000" stroke-width="1.2" fill="none"/><path d="M337.28 349.35V357.96M332.98 349.35H341.58M332.98 357.96H341.58" stroke="#000" stroke-width="1.2" fill="none"/><path d="M348.77 310.64V321.66M344.47 310.64H353.07M344.47 321.66H353.07" stroke="#000" stroke-width="1.2" fill="none"/><path d="M360.26 307.17V318.4M355.96 307.17H364.56M355.96 318.4H364.56" stroke="#000" stroke-width="1.2" fill="none"/><path d="M371.75 317.71V328.29M367.45 317.71H376.05M367.45 328.29H376.05" stroke="#000" stroke-width="1.2" fill="none"/><path d="M383.24 325.78V335.85M378.94 325.78H387.54M378.94 335.85H387.54" stroke="#000" stroke-width="1.2" fill="none"/><path d="M394.73 340.91V350.05M390.43 340.91H399.03M390.43 350.05H399.03" stroke="#000" stroke-width="1.2" fill="none"/><path d="M406.22 355.55V363.78M401.92 355.55H410.52M401.92 363.78H410.52" stroke="#000" stroke-width="1.2" fill="none"/><path d="M417.71 361.88V369.72M413.41 361.88H422.01M413.41 369.72H422.01" stroke="#000" stroke-width="1.2" fill="none"/><path d="M429.2 363.61V371.35M424.9 363.61H433.5M424.9 371.35H433.5" stroke="#000" stroke-width="1.2" fill="none"/><path d="M440.69 367.96V375.42M436.39 367.96H444.99M436.39 375.42H444.99" stroke="#000" stroke-width="1.2" fill="none"/><path d="M452.18 371.68V378.91M447.88 371.68H456.48M447.88 378.91H456.48" stroke="#000" stroke-width="1.2" fill="none"/><path d="M463.67 376.2V379.2M459.37 376.2H467.97M459.37 379.2H467.97" stroke="#000" stroke-width="1.2" fill="none"/><path d="M475.16 376.8V379.8M470.86 376.8H479.46M470.86 379.8H479.46" stroke="#000" stroke-width="1.2" fill="none"/><path d="M486.65 376.8V379.8M482.35 376.8H490.95M482.35 379.8H490.95" stroke="#000" stroke-width="1.2" fill="none"/><path d="M325.79 377.4V380.4M321.49 377.4H330.09M321.49 380.4H330.09" stroke="#000" stroke-width="1.2" fill="none"/><path d="M337.28 346.87V355.64M332.98 346.87H341.58M332.98 355.64H341.58" stroke="#000" stroke-width="1.2" fill="none"/><path d="M348.77 295.88V307.81M344.47 295.88H353.07M344.47 307.81H353.07" stroke="#000" stroke-width="1.2" fill="none"/><path d="M360.26 285.46V298.03M355.96 285.46H364.56M355.96 298.03H364.56" stroke="#000" stroke-width="1.2" fill="none"/><path d="M371.75 288.56V300.94M367.45 288.56H376.05M367.45 300.94H376.05" stroke="#000" stroke-width="1.2" fill="none"/><path d="M383.24 302.2V313.74M378.94 302.2H387.54M378.94 313.74H387.54" stroke="#000" stroke-width="1.2" fill="none"/><path d="M394.73 316.47V327.13M390.43 316.47H399.03M390.43 327.13H399.03" stroke="#000" stroke-width="1.2" fill="none"/><path d="M406.22 336.82V346.21M401.92 336.82H410.52M401.92 346.21H410.52" stroke="#000" stroke-width="1.2" fill="none"/><path d="M417.71 349.35V357.96M413.41 349.35H422.01M413.41 357.96H422.01" stroke="#000" stroke-width="1.2" fill="none"/><path d="M429.2 360.26V368.2M424.9 360.26H433.5M424.9 368.2H433.5" stroke="#000" stroke-width="1.2" fill="none"/><path d="M440.69 363.61V371.35M436.39 363.61H444.99M436.39 371.35H444.99" stroke="#000" stroke-width="1.2" fill="none"/><path d="M452.18 369.2V376.58M447.88 369.2H456.48M447.88 376.58H456.48" stroke="#000" stroke-width="1.2" fill="none"/><path d="M463.67 372.3V379.49M459.37 372.3H467.97M459.37 379.49H467.97" stroke="#000" stroke-width="1.2" fill="none"/><path d="M475.16 375.6V378.6M470.86 375.6H479.46M470.86 378.6H479.46" stroke="#000" stroke-width="1.2" fill="none"/><path d="M486.65 376.2V379.2M482.35 376.2H490.95M482.35 379.2H490.95" stroke="#000" stroke-width="1.2" fill="none"/><path d="M325.79 377.4V380.4M321.49 377.4H330.09M321.49 380.4H330.09" stroke="#000" stroke-width="1.2" fill="none"/><path d="M337.28 349.35V357.96M332.98 349.35H341.58M332.98 357.96H341.58" stroke="#000" stroke-width="1.2" fill="none"/><path d="M348.77 285.46V298.03M344.47 285.46H353.07M344.47 298.03H353.07" stroke="#000" stroke-width="1.2" fill="none"/><path d="M360.26 263.37V277.32M355.96 263.37H364.56M355.96 277.32H364.56" stroke="#000" stroke-width="1.2" fill="none"/><path d="M371.75 270.44V283.95M367.45 270.44H376.05M367.45 283.95H376.05" stroke="#000" stroke-width="1.2" fill="none"/><path d="M383.24 280.87V293.73M378.94 280.87H387.54M378.94 293.73H387.54" stroke="#000" stroke-width="1.2" fill="none"/><path d="M394.73 300.96V312.58M390.43 300.96H399.03M390.43 312.58H399.03" stroke="#000" stroke-width="1.2" fill="none"/><path d="M406.22 319.57V330.03M401.92 319.57H410.52M401.92 330.03H410.52" stroke="#000" stroke-width="1.2" fill="none"/><path d="M417.71 337.81V347.14M413.41 337.81H422.01M413.41 347.14H422.01" stroke="#000" stroke-width="1.2" fill="none"/><path d="M429.2 351.83V360.29M424.9 351.83H433.5M424.9 360.29H433.5" stroke="#000" stroke-width="1.2" fill="none"/><path d="M440.69 364.85V372.51M436.39 364.85H444.99M436.39 372.51H444.99" stroke="#000" stroke-width="1.2" fill="none"/><path d="M452.18 369.82V377.16M447.88 369.82H456.48M447.88 377.16H456.48" stroke="#000" stroke-width="1.2" fill="none"/><path d="M463.67 376.2V379.2M459.37 376.2H467.97M459.37 379.2H467.97" stroke="#000" stroke-width="1.2" fill="none"/><path d="M475.16 376.8V379.8M470.86 376.8H479.46M470.86 379.8H479.46" stroke="#000" stroke-width="1.2" fill="none"/><path d="M486.65 376.8V379.8M482.35 376.8H490.95M482.35 379.8H490.95" stroke="#000" stroke-width="1.2" fill="none"/><path d="M325.79 377.4V380.4M321.49 377.4H330.09M321.49 380.4H330.09" stroke="#000" stroke-width="1.2" fill="none"/><path d="M337.28 344.76V353.66M332.98 344.76H341.58M332.98 353.66H341.58" stroke="#000" stroke-width="1.2" fill="none"/><path d="M348.77 273.92V287.21M344.47 273.92H353.07M344.47 287.21H353.07" stroke="#000" stroke-width="1.2" fill="none"/><path d="M360.26 241.66V256.96M355.96 241.66H364.56M355.96 256.96H364.56" stroke="#000" stroke-width="1.2" fill="none"/><path d="M371.75 237.69V253.23M367.45 237.69H376.05M367.45 253.23H376.05" stroke="#000" stroke-width="1.2" fill="none"/><path d="M383.24 252.7V267.31M378.94 252.7H387.54M378.94 267.31H387.54" stroke="#000" stroke-width="1.2" fill="none"/><path d="M394.73 268.71V282.32M390.43 268.71H399.03M390.43 282.32H399.03" stroke="#000" stroke-width="1.2" fill="none"/><path d="M406.22 289.05V301.41M401.92 289.05H410.52M401.92 301.41H410.52" stroke="#000" stroke-width="1.2" fill="none"/><path d="M417.71 307.17V318.4M413.41 307.17H422.01M413.41 318.4H422.01" stroke="#000" stroke-width="1.2" fill="none"/><path d="M429.2 333.47V343.07M424.9 333.47H433.5M424.9 343.07H433.5" stroke="#000" stroke-width="1.2" fill="none"/><path d="M440.69 352.32V360.76M436.39 352.32H444.99M436.39 360.76H444.99" stroke="#000" stroke-width="1.2" fill="none"/><path d="M452.18 366.22V373.79M447.88 366.22H456.48M447.88 373.79H456.48" stroke="#000" stroke-width="1.2" fill="none"/><path d="M463.67 370.56V377.86M459.37 370.56H467.97M459.37 377.86H467.97" stroke="#000" stroke-width="1.2" fill="none"/><path d="M475.16 374.76V377.76M470.86 374.76H479.46M470.86 377.76H479.46" stroke="#000" stroke-width="1.2" fill="none"/><path d="M486.65 376.68V379.68M482.35 376.68H490.95M482.35 379.68H490.95" stroke="#000" stroke-width="1.2" fill="none"/><circle cx="325.79" cy="378.9" r="4.2" fill="#000"/><circle cx="337.28" cy="353.65" r="4.2" fill="#000"/><circle cx="348.77" cy="316.15" r="4.2" fill="#000"/><circle cx="360.26" cy="312.78" r="4.2" fill="#000"/><circle cx="371.75" cy="323" r="4.2" fill="#000"/><circle cx="383.24" cy="330.81" r="4.2" fill="#000"/><circle cx="394.73" cy="345.48" r="4.2" fill="#000"/><circle cx="406.22" cy="359.67" r="4.2" fill="#000"/><circle cx="417.71" cy="365.8" r="4.2" fill="#000"/><circle cx="429.2" cy="367.48" r="4.2" fill="#000"/><circle cx="440.69" cy="371.69" r="4.2" fill="#000"/><circle cx="452.18" cy="375.29" r="4.2" fill="#000"/><circle cx="463.67" cy="377.7" r="4.2" fill="#000"/><circle cx="475.16" cy="378.3" r="4.2" fill="#000"/><circle cx="486.65" cy="378.3" r="4.2" fill="#000"/><circle cx="325.79" cy="378.9" r="3.7" fill="#fff" stroke="#000" stroke-width="1.1"/><circle cx="337.28" cy="351.25" r="3.7" fill="#fff" stroke="#000" stroke-width="1.1"/><circle cx="348.77" cy="301.84" r="3.7" fill="#fff" stroke="#000" stroke-width="1.1"/><circle cx="360.26" cy="291.74" r="3.7" fill="#fff" stroke="#000" stroke-width="1.1"/><circle cx="371.75" cy="294.75" r="3.7" fill="#fff" stroke="#000" stroke-width="1.1"/><circle cx="383.24" cy="307.97" r="3.7" fill="#fff" stroke="#000" stroke-width="1.1"/><circle cx="394.73" cy="321.8" r="3.7" fill="#fff" stroke="#000" stroke-width="1.1"/><circle cx="406.22" cy="341.51" r="3.7" fill="#fff" stroke="#000" stroke-width="1.1"/><circle cx="417.71" cy="353.65" r="3.7" fill="#fff" stroke="#000" stroke-width="1.1"/><circle cx="429.2" cy="364.23" r="3.7" fill="#fff" stroke="#000" stroke-width="1.1"/><circle cx="440.69" cy="367.48" r="3.7" fill="#fff" stroke="#000" stroke-width="1.1"/><circle cx="452.18" cy="372.89" r="3.7" fill="#fff" stroke="#000" stroke-width="1.1"/><circle cx="463.67" cy="375.89" r="3.7" fill="#fff" stroke="#000" stroke-width="1.1"/><circle cx="475.16" cy="377.1" r="3.7" fill="#fff" stroke="#000" stroke-width="1.1"/><circle cx="486.65" cy="377.7" r="3.7" fill="#fff" stroke="#000" stroke-width="1.1"/><path d="M321.69 375.9H329.89L325.79 382.7Z" fill="#000"/><path d="M333.18 350.65H341.38L337.28 357.45Z" fill="#000"/><path d="M344.67 288.74H352.87L348.77 295.54Z" fill="#000"/><path d="M356.16 267.35H364.36L360.26 274.15Z" fill="#000"/><path d="M367.65 274.2H375.85L371.75 281Z" fill="#000"/><path d="M379.14 284.3H387.34L383.24 291.1Z" fill="#000"/><path d="M390.63 303.77H398.83L394.73 310.57Z" fill="#000"/><path d="M402.12 321.8H410.32L406.22 328.6Z" fill="#000"/><path d="M413.61 339.48H421.81L417.71 346.28Z" fill="#000"/><path d="M425.1 353.06H433.3L429.2 359.86Z" fill="#000"/><path d="M436.59 365.68H444.79L440.69 372.48Z" fill="#000"/><path d="M448.08 370.49H456.28L452.18 377.29Z" fill="#000"/><path d="M459.57 374.7H467.77L463.67 381.5Z" fill="#000"/><path d="M471.06 375.3H479.26L475.16 382.1Z" fill="#000"/><path d="M482.55 375.3H490.75L486.65 382.1Z" fill="#000"/><path d="M322.09 376.1H329.49L325.79 382.5Z" fill="#fff" stroke="#000" stroke-width="1.1"/><path d="M333.58 346.41H340.98L337.28 352.81Z" fill="#fff" stroke="#000" stroke-width="1.1"/><path d="M345.07 277.76H352.47L348.77 284.16Z" fill="#fff" stroke="#000" stroke-width="1.1"/><path d="M356.56 246.51H363.96L360.26 252.91Z" fill="#fff" stroke="#000" stroke-width="1.1"/><path d="M368.05 242.66H375.45L371.75 249.06Z" fill="#fff" stroke="#000" stroke-width="1.1"/><path d="M379.54 257.21H386.94L383.24 263.61Z" fill="#fff" stroke="#000" stroke-width="1.1"/><path d="M391.03 272.72H398.43L394.73 279.12Z" fill="#fff" stroke="#000" stroke-width="1.1"/><path d="M402.52 292.43H409.92L406.22 298.83Z" fill="#fff" stroke="#000" stroke-width="1.1"/><path d="M414.01 309.98H421.41L417.71 316.38Z" fill="#fff" stroke="#000" stroke-width="1.1"/><path d="M425.5 335.47H432.9L429.2 341.87Z" fill="#fff" stroke="#000" stroke-width="1.1"/><path d="M436.99 353.74H444.39L440.69 360.14Z" fill="#fff" stroke="#000" stroke-width="1.1"/><path d="M448.48 367.2H455.88L452.18 373.6Z" fill="#fff" stroke="#000" stroke-width="1.1"/><path d="M459.97 371.41H467.37L463.67 377.81Z" fill="#fff" stroke="#000" stroke-width="1.1"/><path d="M471.46 373.46H478.86L475.16 379.86Z" fill="#fff" stroke="#000" stroke-width="1.1"/><path d="M482.95 375.38H490.35L486.65 381.78Z" fill="#fff" stroke="#000" stroke-width="1.1"/><rect x="438.2" y="211.1" width="65.7" height="77.1" fill="#fff"/><path d="M440.2 214.1V279.2H501.9" fill="none" stroke="#000" stroke-width="1.2"/><text transform="translate(438.7 221.1) scale(0.86 1)" text-anchor="end" class="il">250</text><text transform="translate(438.7 283.8) scale(0.86 1)" text-anchor="end" class="il">0</text><rect x="448.9" y="256.6" width="7.5" height="22.6" fill="#000"/><path d="M452.65 256.6V254.1M450.15 254.1H455.15" stroke="#000" stroke-width="1"/><text x="452.65" y="286.5" text-anchor="middle" class="ql">Q1</text><rect x="461.1" y="246.1" width="7.4" height="33.1" fill="#000"/><path d="M464.8 246.1V243.6M462.3 243.6H467.3" stroke="#000" stroke-width="1"/><text x="464.8" y="286.5" text-anchor="middle" class="ql">Q2</text><rect x="473.6" y="238.8" width="7.5" height="40.4" fill="#000"/><path d="M477.35 238.8V236.3M474.85 236.3H479.85" stroke="#000" stroke-width="1"/><text x="477.35" y="286.5" text-anchor="middle" class="ql">Q3</text><rect x="485.7" y="223.8" width="7.5" height="55.4" fill="#000"/><path d="M489.45 223.8V221.3M486.95 221.3H491.95" stroke="#000" stroke-width="1"/><text x="489.45" y="286.5" text-anchor="middle" class="ql">Q4</text><path d="M452.6 216.7H489.4" stroke="#000" stroke-width="1"/><path d="M452.6 216.7V220" stroke="#000" stroke-width="1"/><path d="M464.8 216.7V220" stroke="#000" stroke-width="1"/><path d="M477.3 216.7V220" stroke="#000" stroke-width="1"/><path d="M489.4 216.7V221.5" stroke="#000" stroke-width="1"/><text x="471.6" y="218.1" text-anchor="middle" class="st">***</text><path d="M452.6 231.3H477.3" stroke="#000" stroke-width="1"/><path d="M452.6 231.3V254" stroke="#000" stroke-width="1"/><path d="M464.8 231.3V244" stroke="#000" stroke-width="1"/><path d="M477.3 231.3V236.5" stroke="#000" stroke-width="1"/><text x="464.9" y="232.7" text-anchor="middle" class="st">*</text></g><g><path d="M573.5 210.4H770.8V400.8H579.5V213.4" fill="none" stroke="#000" stroke-width="1.3"/><line x1="573.5" y1="371.5" x2="579.5" y2="371.5" stroke="#000" stroke-width="1.3"/><text x="568" y="375.7" text-anchor="end" class="tl">0</text><line x1="573.5" y1="339.26" x2="579.5" y2="339.26" stroke="#000" stroke-width="1.3"/><text x="568" y="343.46" text-anchor="end" class="tl">20</text><line x1="573.5" y1="307.02" x2="579.5" y2="307.02" stroke="#000" stroke-width="1.3"/><text x="568" y="311.22" text-anchor="end" class="tl">40</text><line x1="573.5" y1="274.78" x2="579.5" y2="274.78" stroke="#000" stroke-width="1.3"/><text x="568" y="278.98" text-anchor="end" class="tl">60</text><line x1="573.5" y1="242.54" x2="579.5" y2="242.54" stroke="#000" stroke-width="1.3"/><text x="568" y="246.74" text-anchor="end" class="tl">80</text><line x1="573.5" y1="210.3" x2="579.5" y2="210.3" stroke="#000" stroke-width="1.3"/><text x="568" y="214.5" text-anchor="end" class="tl">100</text><rect x="766.8" y="399.3" width="2.6" height="3" fill="#fff"/><line x1="579.5" y1="400.8" x2="579.5" y2="405.3" stroke="#000" stroke-width="1.3"/><text x="579.5" y="421.8" text-anchor="middle" class="tl">0</text><line x1="617.76" y1="400.8" x2="617.76" y2="405.3" stroke="#000" stroke-width="1.3"/><text x="617.76" y="421.8" text-anchor="middle" class="tl">10</text><line x1="656.02" y1="400.8" x2="656.02" y2="405.3" stroke="#000" stroke-width="1.3"/><text x="656.02" y="421.8" text-anchor="middle" class="tl">20</text><line x1="694.28" y1="400.8" x2="694.28" y2="405.3" stroke="#000" stroke-width="1.3"/><text x="694.28" y="421.8" text-anchor="middle" class="tl">30</text><line x1="732.54" y1="400.8" x2="732.54" y2="405.3" stroke="#000" stroke-width="1.3"/><text x="732.54" y="421.8" text-anchor="middle" class="tl">40</text><line x1="770.8" y1="400.8" x2="770.8" y2="405.3" stroke="#000" stroke-width="1.3"/><text x="770.8" y="421.8" text-anchor="middle" class="tl">50</text><text x="675.15" y="443" text-anchor="middle" class="al">Radius</text><text transform="translate(537 305.6) rotate(-90)" text-anchor="middle" class="al">Surface area (µm<tspan dy="-6" font-size="16.7">2</tspan><tspan dy="6">)</tspan></text><polyline points="590.98,371.5 602.46,348.93 613.93,315.89 625.41,307.34 636.89,314.11 648.37,319.59 659.85,333.62 671.32,348.93 682.8,355.38 694.28,359.73 705.76,361.99 717.24,367.95 728.71,369.57 740.19,370.21 751.67,370.69" fill="none" stroke="#000" stroke-width="1.2"/><polyline points="590.98,371.5 602.46,347 613.93,306.21 625.41,287.35 636.89,283.97 648.37,295.25 659.85,308.79 671.32,327.49 682.8,341.36 694.28,352.96 705.76,360.22 717.24,365.05 728.71,367.47 740.19,369.08 751.67,369.89" fill="none" stroke="#000" stroke-width="1.2"/><polyline points="590.98,371.5 602.46,351.35 613.93,300.73 625.41,271.56 636.89,271.23 648.37,276.23 659.85,291.87 671.32,309.92 682.8,328.78 694.28,344.74 705.76,359.73 717.24,365.05 728.71,369.08 740.19,370.21 751.67,370.69" fill="none" stroke="#000" stroke-width="1.2"/><polyline points="590.98,371.5 602.46,350.54 613.93,295.25 625.41,263.66 636.89,251.24 648.37,258.82 659.85,270.11 671.32,288.97 682.8,304.6 694.28,327.49 705.76,347.32 717.24,361.34 728.71,364.73 740.19,368.6 751.67,370.53" fill="none" stroke="#000" stroke-width="1.2"/><path d="M590.98 370V373M586.68 370H595.28M586.68 373H595.28" stroke="#000" stroke-width="1.2" fill="none"/><path d="M602.46 345.8V352.06M598.16 345.8H606.76M598.16 352.06H606.76" stroke="#000" stroke-width="1.2" fill="none"/><path d="M613.93 311.83V319.94M609.63 311.83H618.23M609.63 319.94H618.23" stroke="#000" stroke-width="1.2" fill="none"/><path d="M625.41 303.05V311.64M621.11 303.05H629.71M621.11 311.64H629.71" stroke="#000" stroke-width="1.2" fill="none"/><path d="M636.89 310.01V318.22M632.59 310.01H641.19M632.59 318.22H641.19" stroke="#000" stroke-width="1.2" fill="none"/><path d="M648.37 315.64V323.55M644.07 315.64H652.67M644.07 323.55H652.67" stroke="#000" stroke-width="1.2" fill="none"/><path d="M659.85 330.06V337.18M655.55 330.06H664.15M655.55 337.18H664.15" stroke="#000" stroke-width="1.2" fill="none"/><path d="M671.32 345.8V352.06M667.02 345.8H675.62M667.02 352.06H675.62" stroke="#000" stroke-width="1.2" fill="none"/><path d="M682.8 352.43V358.33M678.5 352.43H687.1M678.5 358.33H687.1" stroke="#000" stroke-width="1.2" fill="none"/><path d="M694.28 356.9V362.56M689.98 356.9H698.58M689.98 362.56H698.58" stroke="#000" stroke-width="1.2" fill="none"/><path d="M705.76 359.22V364.76M701.46 359.22H710.06M701.46 364.76H710.06" stroke="#000" stroke-width="1.2" fill="none"/><path d="M717.24 365.35V370.55M712.94 365.35H721.54M712.94 370.55H721.54" stroke="#000" stroke-width="1.2" fill="none"/><path d="M728.71 368.07V371.07M724.41 368.07H733.01M724.41 371.07H733.01" stroke="#000" stroke-width="1.2" fill="none"/><path d="M740.19 368.71V371.71M735.89 368.71H744.49M735.89 371.71H744.49" stroke="#000" stroke-width="1.2" fill="none"/><path d="M751.67 369.19V372.19M747.37 369.19H755.97M747.37 372.19H755.97" stroke="#000" stroke-width="1.2" fill="none"/><path d="M590.98 370V373M586.68 370H595.28M586.68 373H595.28" stroke="#000" stroke-width="1.2" fill="none"/><path d="M602.46 343.81V350.18M598.16 343.81H606.76M598.16 350.18H606.76" stroke="#000" stroke-width="1.2" fill="none"/><path d="M613.93 301.89V310.54M609.63 301.89H618.23M609.63 310.54H618.23" stroke="#000" stroke-width="1.2" fill="none"/><path d="M625.41 282.5V292.21M621.11 282.5H629.71M621.11 292.21H629.71" stroke="#000" stroke-width="1.2" fill="none"/><path d="M636.89 279.02V288.92M632.59 279.02H641.19M632.59 288.92H641.19" stroke="#000" stroke-width="1.2" fill="none"/><path d="M648.37 290.62V299.89M644.07 290.62H652.67M644.07 299.89H652.67" stroke="#000" stroke-width="1.2" fill="none"/><path d="M659.85 304.54V313.05M655.55 304.54H664.15M655.55 313.05H664.15" stroke="#000" stroke-width="1.2" fill="none"/><path d="M671.32 323.76V331.22M667.02 323.76H675.62M667.02 331.22H675.62" stroke="#000" stroke-width="1.2" fill="none"/><path d="M682.8 338.01V344.7M678.5 338.01H687.1M678.5 344.7H687.1" stroke="#000" stroke-width="1.2" fill="none"/><path d="M694.28 349.94V355.98M689.98 349.94H698.58M689.98 355.98H698.58" stroke="#000" stroke-width="1.2" fill="none"/><path d="M705.76 357.4V363.03M701.46 357.4H710.06M701.46 363.03H710.06" stroke="#000" stroke-width="1.2" fill="none"/><path d="M717.24 362.37V367.73M712.94 362.37H721.54M712.94 367.73H721.54" stroke="#000" stroke-width="1.2" fill="none"/><path d="M728.71 364.86V370.08M724.41 364.86H733.01M724.41 370.08H733.01" stroke="#000" stroke-width="1.2" fill="none"/><path d="M740.19 367.58V370.58M735.89 367.58H744.49M735.89 370.58H744.49" stroke="#000" stroke-width="1.2" fill="none"/><path d="M751.67 368.39V371.39M747.37 368.39H755.97M747.37 371.39H755.97" stroke="#000" stroke-width="1.2" fill="none"/><path d="M590.98 370V373M586.68 370H595.28M586.68 373H595.28" stroke="#000" stroke-width="1.2" fill="none"/><path d="M602.46 348.29V354.41M598.16 348.29H606.76M598.16 354.41H606.76" stroke="#000" stroke-width="1.2" fill="none"/><path d="M613.93 296.25V305.21M609.63 296.25H618.23M609.63 305.21H618.23" stroke="#000" stroke-width="1.2" fill="none"/><path d="M625.41 266.26V276.85M621.11 266.26H629.71M621.11 276.85H629.71" stroke="#000" stroke-width="1.2" fill="none"/><path d="M636.89 265.93V276.54M632.59 265.93H641.19M632.59 276.54H641.19" stroke="#000" stroke-width="1.2" fill="none"/><path d="M648.37 271.06V281.4M644.07 271.06H652.67M644.07 281.4H652.67" stroke="#000" stroke-width="1.2" fill="none"/><path d="M659.85 287.14V296.6M655.55 287.14H664.15M655.55 296.6H664.15" stroke="#000" stroke-width="1.2" fill="none"/><path d="M671.32 305.7V314.15M667.02 305.7H675.62M667.02 314.15H675.62" stroke="#000" stroke-width="1.2" fill="none"/><path d="M682.8 325.09V332.48M678.5 325.09H687.1M678.5 332.48H687.1" stroke="#000" stroke-width="1.2" fill="none"/><path d="M694.28 341.49V347.99M689.98 341.49H698.58M689.98 347.99H698.58" stroke="#000" stroke-width="1.2" fill="none"/><path d="M705.76 356.9V362.56M701.46 356.9H710.06M701.46 362.56H710.06" stroke="#000" stroke-width="1.2" fill="none"/><path d="M717.24 362.37V367.73M712.94 362.37H721.54M712.94 367.73H721.54" stroke="#000" stroke-width="1.2" fill="none"/><path d="M728.71 367.58V370.58M724.41 367.58H733.01M724.41 370.58H733.01" stroke="#000" stroke-width="1.2" fill="none"/><path d="M740.19 368.71V371.71M735.89 368.71H744.49M735.89 371.71H744.49" stroke="#000" stroke-width="1.2" fill="none"/><path d="M751.67 369.19V372.19M747.37 369.19H755.97M747.37 372.19H755.97" stroke="#000" stroke-width="1.2" fill="none"/><path d="M590.98 370V373M586.68 370H595.28M586.68 373H595.28" stroke="#000" stroke-width="1.2" fill="none"/><path d="M602.46 347.46V353.63M598.16 347.46H606.76M598.16 353.63H606.76" stroke="#000" stroke-width="1.2" fill="none"/><path d="M613.93 290.62V299.89M609.63 290.62H618.23M609.63 299.89H618.23" stroke="#000" stroke-width="1.2" fill="none"/><path d="M625.41 258.14V269.18M621.11 258.14H629.71M621.11 269.18H629.71" stroke="#000" stroke-width="1.2" fill="none"/><path d="M636.89 245.38V257.11M632.59 245.38H641.19M632.59 257.11H641.19" stroke="#000" stroke-width="1.2" fill="none"/><path d="M648.37 253.17V264.48M644.07 253.17H652.67M644.07 264.48H652.67" stroke="#000" stroke-width="1.2" fill="none"/><path d="M659.85 264.77V275.44M655.55 264.77H664.15M655.55 275.44H664.15" stroke="#000" stroke-width="1.2" fill="none"/><path d="M671.32 284.15V293.78M667.02 284.15H675.62M667.02 293.78H675.62" stroke="#000" stroke-width="1.2" fill="none"/><path d="M682.8 300.23V308.98M678.5 300.23H687.1M678.5 308.98H687.1" stroke="#000" stroke-width="1.2" fill="none"/><path d="M694.28 323.76V331.22M689.98 323.76H698.58M689.98 331.22H698.58" stroke="#000" stroke-width="1.2" fill="none"/><path d="M705.76 344.14V350.5M701.46 344.14H710.06M701.46 350.5H710.06" stroke="#000" stroke-width="1.2" fill="none"/><path d="M717.24 358.56V364.13M712.94 358.56H721.54M712.94 364.13H721.54" stroke="#000" stroke-width="1.2" fill="none"/><path d="M728.71 362.04V367.42M724.41 362.04H733.01M724.41 367.42H733.01" stroke="#000" stroke-width="1.2" fill="none"/><path d="M740.19 367.1V370.1M735.89 367.1H744.49M735.89 370.1H744.49" stroke="#000" stroke-width="1.2" fill="none"/><path d="M751.67 369.03V372.03M747.37 369.03H755.97M747.37 372.03H755.97" stroke="#000" stroke-width="1.2" fill="none"/><circle cx="590.98" cy="371.5" r="4.2" fill="#000"/><circle cx="602.46" cy="348.93" r="4.2" fill="#000"/><circle cx="613.93" cy="315.89" r="4.2" fill="#000"/><circle cx="625.41" cy="307.34" r="4.2" fill="#000"/><circle cx="636.89" cy="314.11" r="4.2" fill="#000"/><circle cx="648.37" cy="319.59" r="4.2" fill="#000"/><circle cx="659.85" cy="333.62" r="4.2" fill="#000"/><circle cx="671.32" cy="348.93" r="4.2" fill="#000"/><circle cx="682.8" cy="355.38" r="4.2" fill="#000"/><circle cx="694.28" cy="359.73" r="4.2" fill="#000"/><circle cx="705.76" cy="361.99" r="4.2" fill="#000"/><circle cx="717.24" cy="367.95" r="4.2" fill="#000"/><circle cx="728.71" cy="369.57" r="4.2" fill="#000"/><circle cx="740.19" cy="370.21" r="4.2" fill="#000"/><circle cx="751.67" cy="370.69" r="4.2" fill="#000"/><circle cx="590.98" cy="371.5" r="3.7" fill="#fff" stroke="#000" stroke-width="1.1"/><circle cx="602.46" cy="347" r="3.7" fill="#fff" stroke="#000" stroke-width="1.1"/><circle cx="613.93" cy="306.21" r="3.7" fill="#fff" stroke="#000" stroke-width="1.1"/><circle cx="625.41" cy="287.35" r="3.7" fill="#fff" stroke="#000" stroke-width="1.1"/><circle cx="636.89" cy="283.97" r="3.7" fill="#fff" stroke="#000" stroke-width="1.1"/><circle cx="648.37" cy="295.25" r="3.7" fill="#fff" stroke="#000" stroke-width="1.1"/><circle cx="659.85" cy="308.79" r="3.7" fill="#fff" stroke="#000" stroke-width="1.1"/><circle cx="671.32" cy="327.49" r="3.7" fill="#fff" stroke="#000" stroke-width="1.1"/><circle cx="682.8" cy="341.36" r="3.7" fill="#fff" stroke="#000" stroke-width="1.1"/><circle cx="694.28" cy="352.96" r="3.7" fill="#fff" stroke="#000" stroke-width="1.1"/><circle cx="705.76" cy="360.22" r="3.7" fill="#fff" stroke="#000" stroke-width="1.1"/><circle cx="717.24" cy="365.05" r="3.7" fill="#fff" stroke="#000" stroke-width="1.1"/><circle cx="728.71" cy="367.47" r="3.7" fill="#fff" stroke="#000" stroke-width="1.1"/><circle cx="740.19" cy="369.08" r="3.7" fill="#fff" stroke="#000" stroke-width="1.1"/><circle cx="751.67" cy="369.89" r="3.7" fill="#fff" stroke="#000" stroke-width="1.1"/><path d="M586.88 368.5H595.08L590.98 375.3Z" fill="#000"/><path d="M598.36 348.35H606.56L602.46 355.15Z" fill="#000"/><path d="M609.83 297.73H618.03L613.93 304.53Z" fill="#000"/><path d="M621.31 268.56H629.51L625.41 275.36Z" fill="#000"/><path d="M632.79 268.23H640.99L636.89 275.03Z" fill="#000"/><path d="M644.27 273.23H652.47L648.37 280.03Z" fill="#000"/><path d="M655.75 288.87H663.95L659.85 295.67Z" fill="#000"/><path d="M667.22 306.92H675.42L671.32 313.72Z" fill="#000"/><path d="M678.7 325.78H686.9L682.8 332.58Z" fill="#000"/><path d="M690.18 341.74H698.38L694.28 348.54Z" fill="#000"/><path d="M701.66 356.73H709.86L705.76 363.53Z" fill="#000"/><path d="M713.14 362.05H721.34L717.24 368.85Z" fill="#000"/><path d="M724.61 366.08H732.81L728.71 372.88Z" fill="#000"/><path d="M736.09 367.21H744.29L740.19 374.01Z" fill="#000"/><path d="M747.57 367.69H755.77L751.67 374.49Z" fill="#000"/><path d="M587.28 368.7H594.68L590.98 375.1Z" fill="#fff" stroke="#000" stroke-width="1.1"/><path d="M598.76 347.74H606.16L602.46 354.14Z" fill="#fff" stroke="#000" stroke-width="1.1"/><path d="M610.23 292.45H617.63L613.93 298.85Z" fill="#fff" stroke="#000" stroke-width="1.1"/><path d="M621.71 260.86H629.11L625.41 267.26Z" fill="#fff" stroke="#000" stroke-width="1.1"/><path d="M633.19 248.44H640.59L636.89 254.84Z" fill="#fff" stroke="#000" stroke-width="1.1"/><path d="M644.67 256.02H652.07L648.37 262.42Z" fill="#fff" stroke="#000" stroke-width="1.1"/><path d="M656.15 267.31H663.55L659.85 273.71Z" fill="#fff" stroke="#000" stroke-width="1.1"/><path d="M667.62 286.17H675.02L671.32 292.57Z" fill="#fff" stroke="#000" stroke-width="1.1"/><path d="M679.1 301.8H686.5L682.8 308.2Z" fill="#fff" stroke="#000" stroke-width="1.1"/><path d="M690.58 324.69H697.98L694.28 331.09Z" fill="#fff" stroke="#000" stroke-width="1.1"/><path d="M702.06 344.52H709.46L705.76 350.92Z" fill="#fff" stroke="#000" stroke-width="1.1"/><path d="M713.54 358.54H720.94L717.24 364.94Z" fill="#fff" stroke="#000" stroke-width="1.1"/><path d="M725.01 361.93H732.41L728.71 368.33Z" fill="#fff" stroke="#000" stroke-width="1.1"/><path d="M736.49 365.8H743.89L740.19 372.2Z" fill="#fff" stroke="#000" stroke-width="1.1"/><path d="M747.97 367.73H755.37L751.67 374.13Z" fill="#fff" stroke="#000" stroke-width="1.1"/><rect x="703.8" y="211.7" width="65.1" height="76.7" fill="#fff"/><path d="M705.8 214.7V279.4H766.9" fill="none" stroke="#000" stroke-width="1.2"/><text transform="translate(704.3 221.8) scale(0.86 1)" text-anchor="end" class="il">1800</text><text transform="translate(704.3 284.2) scale(0.86 1)" text-anchor="end" class="il">0</text><rect x="714.5" y="255.2" width="7.3" height="24.2" fill="#000"/><path d="M718.15 255.2V252.7M715.65 252.7H720.65" stroke="#000" stroke-width="1"/><text x="718.15" y="286.7" text-anchor="middle" class="ql">Q1</text><rect x="726.5" y="244" width="7.5" height="35.4" fill="#000"/><path d="M730.25 244V241.5M727.75 241.5H732.75" stroke="#000" stroke-width="1"/><text x="730.25" y="286.7" text-anchor="middle" class="ql">Q2</text><rect x="738.6" y="237.4" width="7.5" height="42" fill="#000"/><path d="M742.35 237.4V234.9M739.85 234.9H744.85" stroke="#000" stroke-width="1"/><text x="742.35" y="286.7" text-anchor="middle" class="ql">Q3</text><rect x="750.3" y="226.8" width="7.5" height="52.6" fill="#000"/><path d="M754.05 226.8V224.3M751.55 224.3H756.55" stroke="#000" stroke-width="1"/><text x="754.05" y="286.7" text-anchor="middle" class="ql">Q4</text><path d="M718.1 218.1H754" stroke="#000" stroke-width="1"/><path d="M718.1 218.1V253" stroke="#000" stroke-width="1"/><path d="M730.2 218.1V242" stroke="#000" stroke-width="1"/><path d="M742.3 218.1V235.5" stroke="#000" stroke-width="1"/><path d="M754 218.1V224.5" stroke="#000" stroke-width="1"/><text x="736.6" y="218.6" text-anchor="middle" class="st">***</text></g>
</svg>
</body></html>
